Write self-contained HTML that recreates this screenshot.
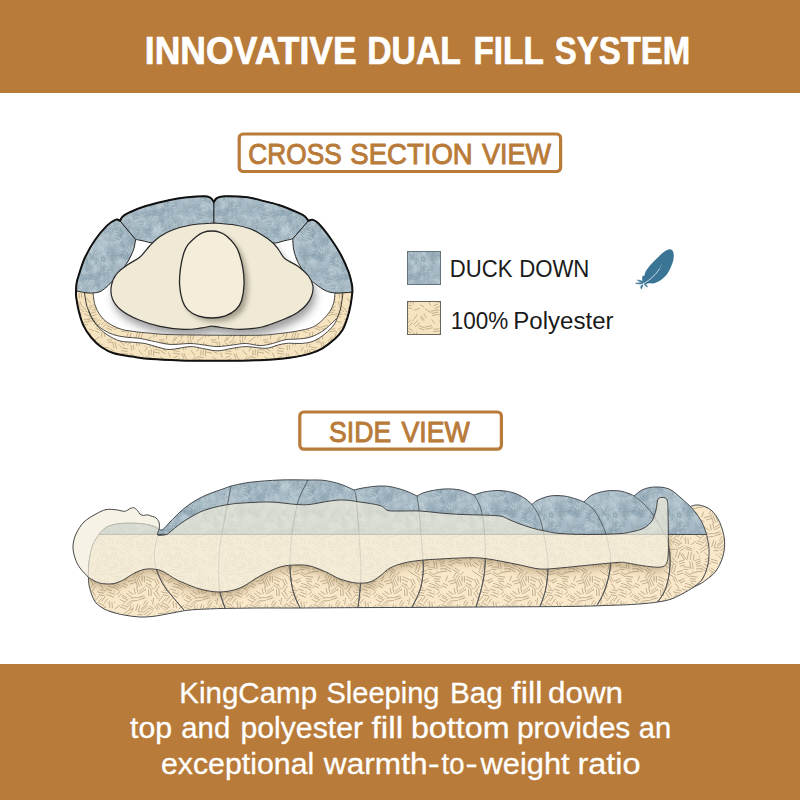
<!DOCTYPE html>
<html><head><meta charset="utf-8"><title>Innovative Dual Fill System</title>
<style>
html,body{margin:0;padding:0;background:#fff;}
body{width:800px;height:800px;overflow:hidden;font-family:"Liberation Sans",sans-serif;}
svg{display:block;}
text{font-family:"Liberation Sans",sans-serif;}
</style></head><body>
<svg width="800" height="800" viewBox="0 0 800 800">
<defs>
<pattern id="polyA" width="64" height="64" patternUnits="userSpaceOnUse"><rect width="64" height="64" fill="#fae8ca"/><path d="M18.1 6.9L23.8 10.3M17.1 9L22.3 12.2M44.8 4.7L40.3 6.9M44 2.5L38.1 5.3M37.9 22.1L33.5 27.2M35.4 19.6L30.8 25M5.3 31.8L3.6 35.3M3.4 29.8L1.5 33.8M8.3 6.4L2.4 7.9M7.1 3.9L0.4 5.6M71.1 3.9L64.4 5.6M26.1 50.2L30.7 53.4M24.1 52.7L28.2 55.5M8.6 11L10.2 17.2M6 12.5L7.3 17.9M42.8 61.1L37 62.8M42.5 58.5L37.3 60.1M-0.4 -0L-2.3 4.9M-0.4 64L-2.3 68.9M63.6 -0L61.7 4.9M63.6 64L61.7 68.9M57.3 18.1L54.3 21M55.8 15.7L52.8 18.5M21.3 49.3L23.2 54.6M18.8 50.2L20.4 54.6M16.1 50.5L17.7 55M10.3 35.8L14.1 35.9M10 38.6L14.2 38.7M43.5 22.9L40.4 27.3M41.4 20.4L37.9 25.2M34.8 1L37.1 4.7M34.8 65L37.1 68.7M33.1 2.2L35.4 6.1M23.3 36.8L18.7 39.9M21.4 34.9L16.5 38.3M28.6 15.7L31.5 20.2M25.8 16.6L29.5 22.2M54.2 42.6L53.3 48.3M51.5 40.6L50.2 47.8M48.6 40L47.3 47M35.5 54.4L34.3 59.5M33.2 52.3L31.7 58.3M44.6 16.1L50.4 18.4M42.7 18.5L49.6 21.3M11.9 29.5L10.3 34.9M9.6 28.4L7.8 34.6M0.5 40.6L3.9 44M64.5 40.6L67.9 44M45.6 34.7L51.7 36.7M45.9 36.7L52 38.7M34.7 27.1L39.9 29.5M33.2 29.3L39.1 32M57.9 59.7L51.1 61.5M30.8 40.3L29.9 44.6M11.6 4.1L13.9 9.6M9.3 4.7L11.6 10.2M7.5 5.4L9.8 11.1M6.6 51.2L2.9 52.6M5.7 48.3L1.1 50.1M5.3 45.8L1.5 47.2M20 26.1L18.1 29.6M18.1 24.2L15.7 28.5M-4.6 7.4L-0.1 9.6M59.4 7.4L63.9 9.6M57.8 9.5L62.4 11.7M36.1 13.9L41.6 14.8M34.1 16.2L39.8 17.2M35.3 18.9L40.3 19.8M4.2 26.3L-0.2 30.5M68.2 26.3L63.8 30.5M2.9 24.8L-1.3 28.8M66.9 24.8L62.7 28.8M0.3 23.1L-4.2 27.4M64.3 23.1L59.8 27.4M60.4 51L56.3 52.5M60.6 49L55.9 50.7M60.2 46.7L54.9 48.7M25.5 22.4L24.7 28.4M19 0.7L25.2 3.8M19 64.7L25.2 67.8M18.2 3.3L23.5 6M9.4 24.4L3.7 25M8.7 21.4L2.7 22.1M0.1 52.3L4.5 54.6M64.1 52.3L68.5 54.6M-1.2 54.9L3.1 57.2M62.8 54.9L67.1 57.2M-2.1 57L3 59.8M61.9 57L67 59.8M30.5 27.3L33.4 31.3M28.3 28.7L31.3 33M26.8 30L29.5 34M22.9 12.8L23.3 19.5M20.5 13.9L20.9 19.5M51.1 6.7L56.2 10M50.1 9L55.1 12.1M49.6 11L54.9 14.3M7.4 47.3L13.3 48.9M7.5 49.8L13.4 51.5M32.4 46.1L37.8 51.1M31.2 48.9L36.2 53.5M0.7 15.4L5 18.2M64.7 15.4L69 18.2M-1.5 17.6L3.5 20.9M62.5 17.6L67.5 20.9M15.8 41.5L19.9 44.9M14 43.7L17.9 46.9M17.6 13.5L11.5 17.6M16.4 11.7L11.2 15.2M55.8 29.3L51.1 32.7M44.5 53L40.1 54.2M44.6 50.3L39.4 51.8M43.7 48.1L38.9 49.5M24.4 58.7L28 61.8M45.6 7.4L50.3 8.9M44.5 10.2L49.7 11.9M42.2 12.9L47.4 14.6M11.9 0.2L9.2 4.7M11.9 64.2L9.2 68.7M9.9 -1.2L6.7 4.3M9.9 62.8L6.7 68.3M8.4 -3.8L5 2M8.4 60.2L5 66M7 56.1L11.5 59.1M5.1 57.7L10.1 61M31.4 10.1L27.6 15.8M29.1 8.4L25.8 13.3M15.7 59.8L12.7 62.9M44 55L49.1 55.2M43.9 57.4L48 57.5M56.3 39.1L58.8 42.3M52.1 50.1L53.3 56.7M49.7 49.6L51 56.7M42 41.3L46.4 47.4M40.3 41.7L44.5 47.6M45.3 60L49.7 62.7M44.2 -2.3L49.5 0.9M44.2 61.7L49.5 64.9M47.9 26.7L48.5 31.8M45.4 27.2L45.9 31.7M37.5 37.2L30.6 37.4M21.5 30.1L25.8 32.6M20.9 32.1L24.6 34.2M3.1 36.2L-3.5 40.4M67.1 36.2L60.5 40.4M2.2 33.5L-4.3 37.7M66.2 33.5L59.7 37.7M39.9 40.5L37.9 46.2M37.5 38.7L35.4 44.9M30.5 59.5L35.5 63M28.2 -2.8L33.9 1.2M28.2 61.2L33.9 65.2M27.6 43.9L22.5 47.6M26 42.2L21.2 45.8M26.1 40L20.5 44.1M50.5 0.2L57.1 1.1M50.5 64.2L57.1 65.1M50.5 2.7L55.5 3.3M50.7 5L55.7 5.6M58.2 19.2L62.7 21.6M58.2 21.1L62.7 23.4M56 23.5L60.5 25.8M44.4 36.2L40.3 38.8M43.2 33.9L38.7 36.8M41.8 30.9L36.8 34.1M28.8 2.9L31 7.5M26.5 3.5L29.1 8.9M17.4 21.6L10.9 23.9M16.2 19.6L9.8 21.9M35.8 7.9L39.1 12.8M62.4 59.4L57.1 59.6M62.1 56.7L56.4 56.9M61.9 53.9L56.7 54.1M20.5 32.2L15.1 36.5M18.4 30.7L13.8 34.3M17.8 29.2L13.1 32.9M-6.1 28.7L-0.6 31M57.9 28.7L63.4 31M56.4 30.9L62 33.3M16.4 0.3L16.4 6M16.4 64.3L16.4 70M14.2 0.2L14.2 5.1M14.2 64.2L14.2 69.1" stroke="#bfae8d" stroke-width="0.95" fill="none" stroke-linecap="round" opacity="1.0"/><path d="M23.5 24.5h0.01M50.4 15.9h0.01M22.1 47.2h0.01M13.8 3.4h0.01M61.3 57.7h0.01M20.6 18.6h0.01M29.5 14h0.01M49.8 55.9h0.01M45.2 25.8h0.01M53.1 59.1h0.01M12.4 42.4h0.01M11.7 62.1h0.01M50.3 26.4h0.01M46.9 19.2h0.01M4.9 32.8h0.01M5.7 29.3h0.01M53.9 36.8h0.01M17.5 14.1h0.01M35.6 32.6h0.01M57 11.6h0.01M29.9 28.8h0.01M24.4 12.5h0.01M24.8 34.7h0.01M13 20.9h0.01M33.7 59.3h0.01M30.9 22.5h0.01M3.1 33.1h0.01M22.3 8.2h0.01M30.4 39.2h0.01M22.8 46.6h0.01M40.2 4.9h0.01M4.1 33.6h0.01M38.5 35.5h0.01M15.2 22.4h0.01M45.5 25.6h0.01M33.8 15.2h0.01M40 30.7h0.01M1.2 47.8h0.01M50.8 62.2h0.01M59.4 44.5h0.01M29.9 17.5h0.01M44.6 27h0.01M21 8.2h0.01M38.5 45.1h0.01" stroke="#bfae8d" stroke-width="1.1" stroke-linecap="round" fill="none" opacity="1.0"/></pattern><pattern id="polyB" width="52" height="52" patternUnits="userSpaceOnUse"><rect width="52" height="52" fill="#f6e4c1"/><path d="M36.7 6.8L44.4 6.9M36.1 9L43.7 9.1M11 30L12.6 36.7M8.8 30.3L10.2 36M4.7 45.1L7.8 46.9M50.3 32.1L48.9 35.4M47.8 30.9L46.2 34.8M37.3 17.1L41.6 18.8M34.6 27.5L35.6 33.3M32 27.8L33 33.6M49.8 38L49.4 43M47.5 37.7L47 43.1M45.1 38.5L44.7 43.2M8 30.1L4.3 30.2M7.8 27.8L3.3 28M9.3 -3.1L15.1 0.8M9.3 48.9L15.1 52.8M15.7 7.8L18.8 11.6M33.6 15.9L27.8 19.3M31.4 14.3L26.1 17.4M3.2 13.7L8.9 16M2.8 16L7.7 18M38.4 21.4L36.7 27.3M36.1 20L34.2 26.6M33.5 20.2L31.9 25.8M12.7 41L14.3 45.2M3.4 48.5L-1.8 50.1M55.4 48.5L50.2 50.1M28 41.6L29.5 45.4M26.1 41.9L27.6 46.1M1.2 2.8L-2.1 7.2M53.2 2.8L49.9 7.2M34.9 38.4L38.6 42.9M23.2 46.6L19 48.4M21.6 44.1L17.9 45.7M23.7 9.2L29.5 10.3M33.7 -0.8L38.9 1.6M33.7 51.2L38.9 53.6M32.5 1.9L37.2 4M8.1 2.5L10.4 5.9M5.4 4L8.2 8M4.5 5.2L7 8.9M44.4 2.7L40 3.8M43.8 -0.2L39.5 1M43.8 51.8L39.5 53M43.7 49.4L40.1 50.4M23.2 2.1L16.5 3.5M21.9 0.1L16.2 1.3M21.9 52.1L16.2 53.3M22.1 -2.3L15.1 -0.8M22.1 49.7L15.1 51.2M16.3 15.8L9.9 17.3M15.7 13.6L9.4 15M27.7 29.6L23.7 32.5M25.3 28.1L21.1 31.1M29.3 45.9L33.7 49.7M27 -4.4L31.8 -0.3M27 47.6L31.8 51.7M25.9 -1.6L30 2M25.9 50.4L30 54M27.1 21.5L25.2 26.7M24.5 20L22.8 24.7M23.7 19L17.5 19.6M22.9 16.8L17.9 17.3M21 25.2L18.6 28.8M19.3 25L16.7 29.1M0.7 20.2L0.5 24.3M52.7 20.2L52.5 24.3M49.9 20.4L49.7 25.2M48.1 10.6L44.5 15M46.5 7.9L42.4 12.8M43.4 35.1L41 39.1M18.7 36.2L23.6 37M17.2 38.6L23.1 39.5M17.6 41.2L23.8 42.2M32.5 7.2L36.9 7.5M32.2 9.9L37 10.1M31.1 12.5L35.5 12.8M40.8 45.6L37.2 50.6M39 44.8L36 49M24.4 1.7L29 2.6M23.6 4L28.5 4.9M11 22.3L10.4 27M47.2 24.9L41 29.5M-1.2 34.9L4.6 36M50.8 34.9L56.6 36M-0.8 37.4L4.4 38.4M51.2 37.4L56.4 38.4M-1.9 40L3.7 41.1M50.1 40L55.7 41.1M3.7 10.7L-0.8 15M55.7 10.7L51.2 15M1.7 8.6L-2.7 12.9M53.7 8.6L49.3 12.9M29.3 33.4L29.8 37.3M27 33.5L27.6 38M41.7 44.8L47.2 45.6M42.2 47.6L47.7 48.4M44.7 16.6L48.6 18.5M43.3 18.9L46.9 20.6M16.7 30.3L20.2 33.3M14.9 32.7L17.7 35.2M6.6 37.1L10.1 39M5.3 39.3L9.3 41.6" stroke="#bfaa84" stroke-width="0.9" fill="none" stroke-linecap="round" opacity="1.0"/><path d="M26.5 24h0.01M26.4 22.5h0.01M22.8 50.3h0.01M40.9 34.3h0.01M8.3 1.7h0.01M19.8 35.9h0.01M49.6 44.1h0.01M48.7 8.5h0.01" stroke="#bfaa84" stroke-width="1.1" stroke-linecap="round" fill="none" opacity="1.0"/></pattern><pattern id="down" width="64" height="64" patternUnits="userSpaceOnUse"><rect width="64" height="64" fill="#a6b9c4"/><path d="M47.5 45.5Q49.5 44.6 51.1 43.1M47.6 47.2Q50.2 46.3 52.2 44.4M2.8 7.4Q2 4.8 4.3 3.6M3.8 8.5Q5.3 6 6.1 3.2M6.2 8.8Q6.1 6.2 6.7 3.7M7.3 9.5Q7.4 6.5 8.5 3.8M54 54.9Q53.5 51.7 51.3 49.2M55.9 54.6Q53.2 51.9 52.3 48.2M56.5 52.7Q56.9 50 54.4 48.9M57.5 52.1Q56.6 50.2 56.4 48.1M36.3 54Q37.5 56 39.7 56.8M34.5 55Q36.7 57.1 39.5 58.3M22.3 8.3Q18.4 8.6 15.1 6.7M21 5.7Q18.9 6.4 16.6 6.3M21.8 5.3Q18.7 5.8 16.1 4M48.7 57.9Q46.9 55.7 47 52.9M49.2 57.9Q50.7 55 48.9 52.4M50.8 57.4Q49.1 55 50.1 52.2M27.2 53.1Q29.1 54 30.2 55.9M26 54.5Q27.2 56.3 29.1 57.3M24.3 55.6Q25.7 58.4 28.7 58.7M23.3 57.2Q25.9 57.7 28 59.3M26.5 0.6Q23.9 -2 23.5 -5.6M26.5 64.6Q23.9 62 23.5 58.4M27.4 -1.3Q27.4 -3.8 25.7 -5.7M27.4 62.7Q27.4 60.2 25.7 58.3M29.4 -1.8Q26.6 -3.5 26.2 -6.8M29.4 62.2Q26.6 60.5 26.2 57.2M30.6 -2Q29.4 -5.3 28 -8.5M30.6 62Q29.4 58.7 28 55.5M17.2 45.2Q13.7 46 10.1 45.7M17.2 43.5Q13.4 43 10.2 44.9M17.3 43Q13.6 43.8 10.1 42.4M17.3 41.8Q13.9 40.3 10.1 40.8M44.1 4.6Q41.5 6.4 39.9 9.1M43.1 3Q41.9 6.4 39.1 8.8M41.4 3Q40.2 4.9 38.8 6.6M40.4 2.1Q40.4 4.7 37.9 5.3M44.1 38Q46.7 40.6 50.4 40.2M43.9 38.4Q46.6 40.3 49.3 42.1M43.5 40.8Q45.9 41.9 48.5 42.1M19.7 35.3Q18.1 33.2 15.4 33M20 33.8Q18.2 32.7 16.5 31.6M20.7 32.8Q19.4 30.5 16.8 30.4M35.2 21.2Q37.3 20.8 39.4 20.6M35.6 22.7Q37.7 22.5 39.7 22M6.4 6.9Q7 4.1 9.3 2.2M6.6 7.6Q8.4 4.7 11.5 3.3M9.5 8.2Q11.4 6.9 11.3 4.5M9.7 9.9Q11.9 7.5 13.7 4.6M14 44Q15 47.2 16.8 50.1M12.4 44.7Q14.8 47.7 16.1 51.3M11.1 47.2Q14 47.9 14.8 50.7M9 50.7Q10.3 48.7 11.3 46.4M10.3 52.1Q11.2 49.4 12.8 47M39 48.7Q41.8 49.2 44.2 50.6M38.7 50Q41.2 51.5 44.1 51.6M38.7 52.2Q41.2 52.4 43.6 52.8M43.5 37.2Q43.6 33.2 46.5 30.5M45.9 36.5Q45.4 33.9 47 31.8M47.8 37Q48.1 34.4 48 31.8M45.3 5.6Q47 7.3 46.6 9.6M43.2 5.4Q43.4 9.1 46.4 11.1M42.6 7Q43.4 9.1 44.8 10.8M31.6 13.6Q31.7 10.8 32.9 8.1M33.2 13.5Q33.5 11.3 34.5 9.2M34.5 14.3Q34.1 11.3 36.5 9.4M8.5 46.7Q5.8 44.5 2.2 44.9M8.5 46.2Q5.6 45.1 3.7 42.7M9 43.9Q6.6 43.8 4.7 42.2M48.1 53.7Q48.9 57.6 46.5 60.8M47.1 53.5Q46.7 56.9 44.9 59.8M8.3 49.3Q9.9 46.2 10.5 42.7M10.8 48.5Q11.3 46 10.3 43.7M12.2 48.8Q11.7 46.3 12.3 43.7M12.6 12.9Q8.9 14.4 5.6 16.5M10.6 12.1Q8.9 14.6 5.8 14.5M36.7 38.1Q35.7 40.7 33 40.9M35.8 36.5Q33.2 37.3 32 39.8M2.5 53Q4.4 54.9 5.9 57.1M1.3 54.5Q1.9 57.1 4.6 57.4M65.3 54.5Q65.9 57.1 68.6 57.4M-0.4 53.8Q1.7 57 3.7 60.1M63.6 53.8Q65.7 57 67.7 60.1M14.6 18.1Q12.2 18.6 9.8 18.3M15.6 17Q12.4 18.7 9.2 16.9M16 16.9Q13.1 14.6 9.5 14.2M60 48.9Q57.9 50.9 55.2 50.1M60 46.7Q57.6 49.1 54.4 49.6M33.3 4.1Q34.1 7.9 31.5 10.8M32.6 3.3Q29.4 5.9 29 10M30.7 3.8Q29.4 5.9 28 7.9M29.2 2.7Q27.1 5 27.7 8.1M53.7 45.2Q55.1 42.6 56.9 40.3M55.3 45.6Q56.7 43.4 58.3 41.4M57.4 47.4Q57.3 43.9 59.4 41.2M45.7 46.1Q49.5 44.2 53.6 45.4M47.6 47.8Q49.7 46.2 52.2 47.3M46.5 49.9Q50.3 50.1 53.6 48.4M46.3 51.2Q50.3 51.1 54.2 50.4M41.2 2.5Q40.6 6.6 42.9 10.2M38.7 3.7Q40.4 7.1 42.5 10.2M50.4 38.9Q54.4 38.4 57.2 41.3M49.8 40.5Q53 43 57 42.1M50.7 41.6Q53.4 41.5 55.2 43.6M50.3 42.3Q52.2 44.2 54.8 45.2M34 20.4Q31.5 20.1 30.1 22.3M33.1 18.6Q30.6 18.9 29.2 21.1M33.9 17.5Q30.8 19.7 26.9 19.7M33.1 15.9Q30 18.6 26 18.3M22.7 25.9Q24.7 23.4 26.4 20.7M25.7 26.5Q27.9 24.2 26.7 21.4M26 27Q28.8 25.1 28.7 21.7M11.7 41Q14.7 43.5 16.9 46.7M10.6 43Q14 43.7 15.4 46.9M10.4 44.2Q11.2 46.5 13.3 47.7M9.7 44.9Q10.7 46.9 11.8 48.8M8.1 51.5Q11.1 49.5 14.6 50.2M7.8 52.5Q11.6 51.5 15.4 52.7M50.3 44.1Q47.4 44 45.1 42.4M49.9 41.7Q47.8 41.8 45.7 41.4M51 40.9Q47.9 40.1 44.9 39.1M51.4 39.1Q48.2 37.8 44.7 37.6M37.9 43.7Q37.4 46.3 36.7 48.8M35.9 43.9Q36.8 46 35.6 47.9M51.2 26.7Q51.2 23.5 53.4 21.1M53.1 26.7Q53.3 24.7 54.4 22.9M53.7 28.1Q55.5 25.9 56.8 23.4M34.7 60.4Q35.7 56.9 35.2 53.3M35.9 58.9Q37 57.2 37.3 55.1M37.4 59.7Q39.3 57.6 39.1 54.7M16.3 34.3Q17.9 32.5 17.4 30.1M19.1 35.7Q17.2 32.5 17.6 28.7M19.5 35.6Q20.8 32.4 20.4 28.9M49.7 51.9Q51.6 54.1 52.6 56.7M47.8 53.4Q49.2 56.1 51.8 57.5M12.9 5.2Q15.8 3.2 16.8 -0.3M12.9 69.2Q15.8 67.2 16.8 63.7M14.5 5.5Q15.4 2.9 17.5 1.1M14.5 69.5Q15.4 66.9 17.5 65.1M39.3 42.5Q42.6 42.6 45.6 41.2M39.6 43Q42.4 43 45.2 43.4M39.1 44.2Q42.3 44.9 45.6 45M3.5 30.3Q4.1 27.6 6.5 26.2M5.2 31.1Q5.5 28.7 6.9 26.7M6 32.2Q7.9 30 8.5 27.1M32.7 39Q31.4 41.2 29 40.4M33 36.7Q30.8 39.4 27.3 40M32.8 58.3Q31.9 60.5 30.1 61.9M30.7 56.9Q29.8 59.4 28.6 61.7M29.9 56Q27.7 58.4 27 61.6M27.8 56.2Q25.6 57.6 26.2 60.2M7.5 38.1Q5.4 38.1 3.5 37.3M8.4 36.6Q5.7 34.8 2.9 36.4M9 35.7Q5.9 34.6 2.5 34.5M23.1 10.3Q23.5 6.8 25.1 3.6M24.5 10.4Q25.7 7.6 26.8 4.6M10 7.8Q13.1 8.3 16.3 8.9M9.5 9.5Q12.6 11.6 16.2 10.7M38 30.5Q39.4 27.2 42.4 25.1M40.7 31.6Q41.8 28.6 42.5 25.6M41.5 31.7Q44.2 30.2 44.7 27.2M8.2 33.9Q10.6 32.4 12.8 30.7M9.5 35.3Q10.3 32.1 13.4 31.6M47.7 24.7Q50.7 22.2 54.4 23.1M48.2 26.6Q50.9 24 54.6 23.6M49 27.1Q51.6 25.2 54.7 26M8.5 2.7Q6 1.4 5.9 -1.4M8.5 66.7Q6 65.4 5.9 62.6M9.4 3.2Q8 0.2 8 -3.1M9.4 67.2Q8 64.2 8 60.9M50.5 28.9Q54.1 27.6 57.8 28.2M52.1 31.5Q54.8 30.6 57.4 29.5M51.8 33.4Q54.7 30.9 58.4 30.1M52.5 34.7Q55.3 32.6 58.7 31.8M31.5 8.3Q29.3 5.3 25.6 4.7M31.2 6Q28.9 5.4 27 4.1M23.4 -9.5Q21.9 -5.7 22.7 -1.7M23.4 54.5Q21.9 58.3 22.7 62.3M22 54.6Q20.9 58.3 22.3 61.8M21.1 55.7Q21.5 58.1 20.2 60.2M20.1 54.1Q19.4 57.7 18.8 61.3M35.7 -0.5Q39.7 -0.3 42.3 -3.3M35.7 63.5Q39.7 63.7 42.3 60.7M36.7 -0.4Q39.3 -0.5 41.8 -1.1M36.7 63.6Q39.3 63.5 41.8 62.9M37 1.2Q39.5 0.3 42.1 0.3M37 65.2Q39.5 64.3 42.1 64.3M36.3 2.9Q40 2.8 43.4 1.2M36.3 66.9Q40 66.8 43.4 65.2M-6.9 55.1Q-4.1 58.3 0 59M57.1 55.1Q59.9 58.3 64 59M57.2 56.7Q58.8 59.5 62 60.1M55.8 -7Q59.3 -5 61.7 -1.7M55.8 57Q59.3 59 61.7 62.3M8.7 7.1Q9.3 3.2 8.5 -0.7M8.7 71.1Q9.3 67.2 8.5 63.3M10.7 6.3Q11.4 3 9.5 0.2M10.7 70.3Q11.4 67 9.5 64.2M38.8 11.5Q41.4 12.1 43.9 11.4M37.9 12.8Q41.6 11.5 45.3 12.5M38.2 15.3Q42.5 15.8 45.8 13.1M21.4 25.3Q19.9 22.3 20.2 19M23.2 24.7Q23.8 21 21 18.5M24 23Q23.8 20.9 22.6 19.2M26.4 23.2Q26.2 19.6 23.2 17.6M21.1 38.8Q23.5 37.7 24.9 35.6M20.6 40.3Q24.2 38.7 27.3 36.1M22.1 41.4Q24.7 38.7 28.3 37.6M58.9 26.2Q55.6 25.9 52.4 25.2M59.5 24.9Q55.7 24.4 52.1 23M58.1 22.9Q55.8 23.3 53.7 22.1M58.4 21.3Q56.1 20.3 53.7 21.2M31 42.7Q27.5 42 24 42.5M30.5 41.6Q27.6 41.9 25.1 40.3M30.8 39.6Q28 38.2 25.2 39.8M47.1 15.3Q43.8 16.8 40.6 15M46.7 13.5Q43.7 14.4 40.7 13.8M46.7 12.4Q43.5 14 40.4 12.4M-0.5 27Q-2 29.3 -0.7 31.7M63.5 27Q62 29.3 63.3 31.7M61.1 27Q60.9 29.7 61.8 32.3M59.6 26.1Q58.7 30.1 60.6 33.6M58 26.8Q58.6 30.1 58.4 33.6M36.1 31.5Q34.2 32.8 33.1 34.9M35.4 29Q33 32.1 31.5 35.8M33.1 29.2Q32.4 31.6 31 33.6M32.5 28.1Q32.1 31.4 29.4 33.3M12.8 37.6Q13.6 40.7 11.8 43.3M10.8 37Q9.9 40.1 10.7 43.3M41.4 52.1Q40.2 49.8 38.6 47.9M43.2 51.5Q39.8 49.8 39.1 46.1M27 44.5Q30.3 42.5 31.8 39.1M29.4 45.5Q29.6 42 32.2 39.6M29.9 45.7Q32.7 43.8 33.8 40.6M20.6 53.2Q18.5 50.6 18.5 47.3M22.2 53Q21.4 49.6 19.4 46.7M23.3 51.8Q23.4 48.9 21.3 47M42.3 -4.1Q41.7 -2.1 39.9 -0.8M42.3 59.9Q41.7 61.9 39.9 63.2M41.5 -5.8Q40.5 -2.9 38.2 -1M41.5 58.2Q40.5 61.1 38.2 63M-2.7 26.4Q0.9 27.1 3.6 24.6M61.3 26.4Q64.9 27.1 67.6 24.6M-2.9 26.7Q0.7 25.9 4.3 27.2M61.1 26.7Q64.7 25.9 68.3 27.2M-1.5 28.3Q0.9 29.6 3.2 28.1M62.5 28.3Q64.9 29.6 67.2 28.1M48.7 37.5Q50.8 39.9 53.7 41.2M48.4 37.7Q49.8 40.5 52.1 42.7M47 39.3Q49.5 40.8 50.9 43.3M30.7 56.2Q34.1 54.1 35.2 50.3M31.5 56.1Q34.3 54.9 35.9 52.2M31.2 57.1Q35.4 56.8 37.9 53.3M33.3 58.6Q34.7 55.6 37.9 54.4M53.4 -0.1Q56.2 2.4 56.6 6.3M53.4 63.9Q56.2 66.4 56.6 70.3M52.1 1.7Q55 3 55.2 6.2M52.1 65.7Q55 67 55.2 70.2M50.4 2.3Q52.4 4.7 54.7 6.9M50.4 2.5Q51.9 5.1 52.6 8M4.2 27.1Q2.7 25 0.2 24.4M68.2 27.1Q66.7 25 64.2 24.4M5.8 26.8Q3.3 24.8 0.7 22.9M69.8 26.8Q67.3 24.8 64.7 22.9M6.9 26.4Q3.5 24.8 1.6 21.5M70.9 26.4Q67.5 24.8 65.6 21.5M28.3 35.4Q26.8 37.5 28.2 39.7M26.2 34.8Q27.9 37.3 27.7 40.4M25.1 34.1Q26.9 37.4 26 41.1M54.6 8.3Q56.1 6.4 56.5 4.1M56.3 10.3Q58.1 6.8 58 2.9M58.1 11Q60.4 7.3 59.2 3.1M59.6 10.1Q58.7 7.1 61 4.9M7.7 29.5Q9.2 27.8 9.9 25.6M9.5 30.5Q9.6 27.9 10.8 25.6M9.8 31.4Q11.6 28.5 13.2 25.5M12.5 32.2Q12.8 28.9 14 25.8M6.5 56.2Q4.2 59.4 0.9 61.7M70.5 56.2Q68.2 59.4 64.9 61.7M4 55.7Q2.9 58.2 0.8 60M68 55.7Q66.9 58.2 64.8 60M5.3 56.5Q5.5 53.3 4.1 50.4M7 55.3Q5.3 53.2 5.2 50.5M8.9 54.2Q9.2 51.3 6.6 50.1M60.5 59.6Q58.3 58.1 55.7 57.9M60.9 57.7Q58.6 56.5 56 56.9M-1.3 56Q-5.2 55.8 -9 55.5M62.7 56Q58.8 55.8 55 55.5M32.5 11.8Q31.1 14.8 33 17.6M30.7 11.4Q29.7 15.3 31.7 18.8M23.9 8.4Q24.9 5.1 23.5 2M25.8 6.8Q24.4 4.9 24.8 2.6M27.9 6.7Q27.7 3.8 25.7 1.8M27.9 70.7Q27.7 67.8 25.7 65.8M42.3 29Q45.1 30.1 48.2 30.5M42.2 29.5Q43.7 32.5 47 32.4M41.6 30.9Q43.6 32.7 46.1 33.5M38.4 -2.3Q38 1.5 39.5 5.1M38.4 61.7Q38 65.5 39.5 69.1M37.5 -0.7Q38.3 1.4 37.2 3.4M37.5 63.3Q38.3 65.4 37.2 67.4M35.4 40.8Q36.5 39 37.1 37M35.4 42.7Q38.8 40.6 39.3 36.6M37.3 43.6Q39.7 41 39.9 37.5M59.3 3.3Q58.2 5.4 57.2 7.6M57.7 1.2Q55.4 4.5 55.9 8.4M57.7 65.2Q55.4 68.5 55.9 72.4M56.1 2.3Q56.5 4.5 55.1 6.2M55.1 -0.2Q55.5 4 53 7.4M55.1 63.8Q55.5 68 53 71.4M34 32.2Q34.3 35.8 31.6 38.1M32.4 31.1Q33.2 35.3 30.9 38.9M31 31.6Q31.8 35.2 29.3 37.9M29.5 31.8Q27.6 34.3 28.6 37.4M6.4 25.4Q7.9 27.2 8.7 29.4M4.2 25Q5.5 28.7 8.2 31.5M42.8 11Q40.5 12.4 37.8 11.9M43.7 9.9Q40.2 9 36.7 9.7M20.6 46.6Q21.5 49.1 22.2 51.6M18.9 47.8Q19.8 49.8 21.2 51.5M23.7 3.5Q22.8 7.2 19.7 9.4M22.5 2.6Q21.3 5.8 18.7 8M10.3 30.1Q7.2 28.1 3.7 27.7M9.6 28.1Q7.2 28.7 5.5 26.8M25 20.9Q22.1 20 19.2 19.3M25.7 19.8Q21.8 20.1 18.9 17.5M25.5 17.1Q22.5 18 19.8 16.6M39.7 20.1Q42.8 20 44.2 17.2M41.4 21.4Q44 20.8 44.2 18.1M40.6 23.1Q44.2 21.9 46.9 19.2M21.2 27.4Q17.6 27.1 13.9 27.8M20.9 26.8Q17.3 27.2 14.6 25M21.3 24.3Q17.8 25.2 14.4 24M20.9 23.4Q18 23 15 22.6M22.8 37.8Q25.3 36.5 25.3 33.7M23.1 38.4Q26.2 37.7 26.9 34.5M23.7 39.3Q26.8 38.2 28.5 35.3M25.9 40.6Q28.8 39.4 29.4 36.4M12.1 46.9Q10.6 50.1 11.6 53.4M9.7 46.6Q10.8 50.1 11.2 53.7M8.9 48.1Q9.1 50.2 9.1 52.2M8.2 31.8Q6.9 28.7 4.7 26.1M10.2 31.3Q8.6 27.9 5.9 25.2M-1 27.1Q-0 30.2 0.5 33.5M63 27.1Q64 30.2 64.5 33.5M-2.2 28.6Q0.2 29.9 -0.6 32.5M61.8 28.6Q64.2 29.9 63.4 32.5M-4 27.1Q-2.4 30.7 -1.2 34.4M60 27.1Q61.6 30.7 62.8 34.4M11.5 58.9Q9.2 60.6 6.5 59.2M12.3 57.8Q9.1 57.4 5.9 57.4M11.5 56.3Q9 56.9 6.9 55.5M30.5 38.2Q31.6 36.1 30.2 34.2M32 40Q31.6 36.1 31.5 32.3M33.4 38.4Q32.1 36.1 33.3 33.7M35.4 4.4Q37.4 6.6 40.4 6.3M34.2 6Q38 5.7 41.1 7.8M34.5 7.4Q38 7.1 40.3 9.8M19.5 17.9Q19 14.3 16.1 12.1M22 16.3Q18.2 15.1 16.2 11.7M21.5 14.6Q21.1 12.5 19.3 11.2M32.2 44.8Q36.1 44 39.4 41.6M34.5 46.1Q37 45.4 38.6 43.3M34 47.8Q37.7 47.1 40.4 44.4M58.3 45.4Q55.4 44 52.7 42.1M59.6 44.2Q56.2 42 52.2 41.2M59.7 42.6Q57.1 39.7 53.2 40.1M59.8 41.9Q57.8 38.9 54.3 38.1M27.5 34.1Q29.6 37.6 33.2 39.4M27 35.4Q29 37.8 31.3 39.7M26.8 36.4Q26.2 39.2 28.7 40.6M-8.1 43.3Q-4.4 43.5 -1.5 41.1M55.9 43.3Q59.6 43.5 62.5 41.1M-6.7 44.5Q-4.2 43.3 -1.5 43M57.3 44.5Q59.8 43.3 62.5 43M-6.7 46.5Q-3.6 44.9 -0.4 43.6M57.3 46.5Q60.4 44.9 63.6 43.6M1.4 40.2Q3 36.9 5.7 34.2M65.4 40.2Q67 36.9 69.7 34.2M3.1 41.6Q4.7 38.1 6.3 34.5M47.7 38.6Q44.7 39.5 42.6 37.1M48 37.3Q45.5 36.2 42.8 35.4M48.2 35.3Q45.5 35.8 43.2 34.2M48.7 34.1Q45.4 34.6 43.3 31.9M11.1 11.2Q14.1 10.6 16.4 12.5M9.7 13.2Q13.5 12.8 17.3 13M10.3 13.5Q13.8 13.2 16 15.8M6.7 16.6Q5 18.2 5 20.5M7 15.2Q4.6 17.6 2.3 20.1M4.8 15Q4.7 17.8 2 18.4M25.5 23.3Q27.9 25.2 31 25.6M25.5 25.1Q28 25.1 30.1 26.3M25 26.7Q27.5 25.3 29.7 27.2M24.5 27.7Q27.4 27.6 28.9 30.1M31.4 46.8Q29.7 50.4 31 54.1M30.1 46.6Q30.2 50.7 29 54.5M27.4 47.4Q27.5 50.8 28.4 53.9M41.1 24.1Q37.4 22.7 33.7 24.2M39.5 22.7Q37.1 22.1 34.6 22.7M-3.8 18.3Q-1.3 17.5 0.6 15.7M60.2 18.3Q62.7 17.5 64.6 15.7M-4.3 20.4Q-1.6 17.6 2.2 16.5M59.7 20.4Q62.4 17.6 66.2 16.5M7.9 52.5Q5.9 51.8 3.8 52M8.3 51.4Q6 49.8 3.2 50.5M8.3 49Q5.7 49.5 3.1 50M7.8 47.6Q5.9 49 3.5 48.5M4.5 24.4Q8.4 24.1 12.3 24.4M6 26.5Q8.4 25.9 10.9 25.6M5.3 27.2Q8.7 26.7 11.7 28.2M5.6 29.5Q8.7 30.7 11.6 29.1M12 -2.2Q9.2 0.3 7.9 3.9M12 61.8Q9.2 64.3 7.9 67.9M10.1 -3.3Q10.2 1 7.1 3.9M10.1 60.7Q10.2 65 7.1 67.9M34.2 45.3Q35.9 47.7 37.7 50.2M32.9 46Q33.8 48.8 35.9 50.8M32 47.1Q32.9 49.1 34.4 50.8M30.6 47.8Q32.6 49 33.2 51.3M30.8 11.4Q30.3 7.4 31.1 3.5M31.9 9.6Q32.7 7.7 33.1 5.6M33.2 17.3Q30.8 14.9 27.7 13.6M33.1 15.7Q30.8 15.1 29.5 13.1M37.7 49.1Q39.1 52.1 41.6 54.2M35.4 50.5Q39 52.1 42.1 54.5M34.3 51.6Q37.8 53.4 40.8 55.9M33.8 53Q35.9 55.7 39.2 56.6M37.2 4.8Q34.9 2 31.6 0.5M37.2 68.8Q34.9 66 31.6 64.5M36.8 3.5Q34.7 2.4 34 0.2M36.8 67.5Q34.7 66.4 34 64.2M38 3.2Q36.3 1 35 -1.4M38 67.2Q36.3 65 35 62.6M11.3 54.6Q14.2 56.3 17.6 56.3M11.3 56.3Q14.1 56.4 16.7 57.4M10.5 58.4Q13.5 59 16.6 58.6M37.9 -1.3Q37.9 -4.9 36.4 -8.2M37.9 62.7Q37.9 59.1 36.4 55.8M39.9 -1.7Q40.3 -5.8 37.4 -8.7M39.9 62.3Q40.3 58.2 37.4 55.3M40.3 61.7Q38.8 58.4 39.8 55" stroke="#bdccd5" stroke-width="0.8" fill="none" stroke-linecap="round" opacity="0.8"/><path d="M12.5 36.7Q10.8 39.1 11.3 42M10.6 36.9Q9.8 39.1 9.9 41.4M57.9 38Q55.5 39.6 52.8 40.8M57.7 37.4Q54.8 38 51.9 38.6M57.8 36Q53.9 35 50.6 37.5M37.3 11.4Q40.5 9.6 43.7 11.3M36.8 11.4Q39.8 13.9 43.7 14.1M48.2 4.3Q47.2 2.1 46.5 -0.1M48.2 68.3Q47.2 66.1 46.5 63.9M49.6 4Q50.5 1 48.5 -1.4M49.6 68Q50.5 65 48.5 62.6M52.3 4.1Q49.9 1 48.3 -2.6M52.3 68.1Q49.9 65 48.3 61.4M53.4 3.3Q50.8 0.5 50.5 -3.3M53.4 67.3Q50.8 64.5 50.5 60.7M3.3 -2.2Q3.3 0.8 0.5 1.8M3.3 61.8Q3.3 64.8 0.5 65.8M67.3 -2.2Q67.3 0.8 64.5 1.8M67.3 61.8Q67.3 64.8 64.5 65.8M2.6 -3Q-0.1 -1.9 -1 0.8M2.6 61Q-0.1 62.1 -1 64.8M66.6 -3Q63.9 -1.9 63 0.8M66.6 61Q63.9 62.1 63 64.8M12.9 20.6Q15.3 20.1 17.3 21.6M12.4 21.1Q14.3 23.2 17.2 23.6M10.7 23.5Q14.3 24.8 18.1 24.6M16.8 37.8Q17.7 33.9 20.8 31.4M18.7 39.3Q19.7 35.4 22.2 32.2M18.8 38.9Q21.3 36.3 24.3 34.1M21.1 39.2Q22.4 36.9 24.9 35.9M24.8 22.9Q27.3 20 31 19.4M25.1 23.2Q28.3 21.8 31.8 22.1M25.3 25.6Q28.3 22.7 32.6 22.6M26.6 26.8Q29.5 25.8 32.4 24.6M23.6 7.5Q20.3 7.8 17.5 6.2M24.4 6.3Q20.8 4.6 16.8 4.5M3.1 54.5Q0.6 53.6 -1.7 52.4M67.1 54.5Q64.6 53.6 62.3 52.4M4.6 53.9Q2.4 50.8 -1.3 50.3M68.6 53.9Q66.4 50.8 62.7 50.3M4.8 53.3Q2.7 50.7 0.2 48.5M68.8 53.3Q66.7 50.7 64.2 48.5M32.7 -6.3Q29.9 -4.7 30.1 -1.5M32.7 57.7Q29.9 59.3 30.1 62.5M30.6 -8Q29.1 -4.5 29.3 -0.7M30.6 56Q29.1 59.5 29.3 63.3M53.7 54.3Q51.6 56.1 49.2 57.6M52.5 52.8Q49.5 53.7 48.6 56.6M52.9 51.1Q50 54 46.3 55.7M42.3 40.7Q40.5 42 39.5 44M42.8 39.4Q40.3 41.7 37.3 43.6M41.7 38.1Q38.4 39.8 36.6 42.9M39.4 37.9Q39 40.5 36.4 40.6M58.9 49.7Q59.8 52.4 59.3 55.2M57.3 49.4Q58.9 52.3 58.4 55.6M56.5 49.9Q57.7 52.5 56.5 55.1M37.6 4.8Q37.2 2.8 37.7 0.8M37.6 68.8Q37.2 66.8 37.7 64.8M38.9 5.2Q41 3.5 39.7 1.1M38.9 69.2Q41 67.5 39.7 65.1M40.1 6.3Q40.4 3.4 40.9 0.4M40.1 70.3Q40.4 67.4 40.9 64.4M16.5 37.8Q19.7 36.9 22.7 38.5M17 38.9Q18.9 39.9 20.9 40.7M14.6 40.9Q18.3 41.9 22 41.8M35.9 25.5Q33.3 22.9 29.7 22.6M36.5 23.9Q33.9 21 30 21M36.1 21.7Q33.4 22.2 31.2 20.4M36.1 20.2Q34.4 18.6 32.1 18.8M48.1 60.5Q48 57.5 45.8 55.7M48.9 59.1Q49.5 56.4 47 55.4M51 59.1Q48.8 56.5 47.2 53.5M52.3 58.3Q49.8 55.5 48.6 52M4.9 52.8Q3.6 49.2 4 45.4M6.9 51.6Q7.4 48.2 4.9 45.8M8.6 51.5Q8.9 47.7 6.3 45M6.5 12.4Q8.3 15.2 9.2 18.3M5.9 12.1Q6 15.8 7.1 19.3M11.4 47.5Q13.5 45.3 15.2 42.9M12.3 48.5Q14.3 46.5 16.3 44.5M12.2 49.6Q15.2 47.6 18.4 45.9M25.5 -2.6Q28.6 -0.5 28.7 3.2M25.5 61.4Q28.6 63.5 28.7 67.2M24.8 -2.5Q27.3 0.4 26.9 4.1M24.8 61.5Q27.3 64.4 26.9 68.1M25.1 2.8Q24.8 5.8 25.5 8.8M24.1 2.6Q22.4 5.5 23.8 8.5M22.4 2.3Q24.2 5.3 22.5 8.3M36.5 37.4Q39.2 36.3 41.4 34.4M36.7 38Q39.9 37.7 42.7 36.1M5.4 53.1Q2.1 52.1 0.3 49.2M69.4 53.1Q66.1 52.1 64.3 49.2M6.3 51.9Q4.1 49.6 1.2 48.2M70.3 51.9Q68.1 49.6 65.2 48.2M7.5 51.1Q4.5 49.1 2.2 46.5M8.1 0Q11.7 1.8 15.7 1.9M8.1 64Q11.7 65.8 15.7 65.9M9.7 2Q11.8 3.3 13.9 1.9M9.7 66Q11.8 67.3 13.9 65.9M8.7 2.8Q12 2.1 14.7 4.3M9 4.8Q11.8 3.8 14 5.7M50.1 37.3Q50.9 35 50.7 32.5M51.8 38.4Q51.5 35.1 51.5 31.8M52.3 38.5Q53.3 35.4 53.7 32.1M21.4 23Q20.7 25.6 18.9 27.5M19.8 21.9Q17.4 24.2 17.7 27.5M0.7 52.7Q3.6 55.4 3.2 59.3M64.7 52.7Q67.6 55.4 67.2 59.3M-0.3 54.2Q-0.5 57.2 1.5 59.4M63.7 54.2Q63.5 57.2 65.5 59.4M19.8 19Q23.7 18.2 27.4 19.5M20.9 20.1Q23.3 21.7 26.2 21.1M21 22.1Q23.4 22.6 25.9 21.9M19.5 23.8Q23.5 24.5 27.1 22.7M41.5 29.1Q44.4 30.9 45.1 34.2M41.2 29.6Q41.8 32.3 43.1 34.7M39.7 29.2Q41.1 32.6 42 36.3M31.3 8.7Q30.9 4.8 30.3 1M31.3 72.7Q30.9 68.8 30.3 65M32.6 7.6Q32.9 4.6 32.1 1.7M32.6 71.6Q32.9 68.6 32.1 65.7M6 26Q7.9 28.5 6.9 31.4M4.4 27.1Q4.3 29.5 6 31.1M4.1 35.4Q7.5 35.9 10.4 34M4 37.2Q7.6 36.1 11.3 35.1M4.7 37.6Q8 35.8 11.3 37.5M6 39.7Q7.9 37.4 10.7 38.2M29.5 -2.1Q28.3 0.9 29.6 3.9M29.5 61.9Q28.3 64.9 29.6 67.9M27.5 -0.8Q27.1 1.5 28.8 3.1M27.5 63.2Q27.1 65.5 28.8 67.1M26.5 -2.2Q28.1 1.3 26.8 5M26.5 61.8Q28.1 65.3 26.8 69M58.3 60.4Q58.3 56.7 59.3 53.1M59 60.9Q60.9 57.4 61.5 53.4M-3.5 60.9Q-3.4 57.2 -0.9 54.3M60.5 60.9Q60.6 57.2 63.1 54.3M60.8 19.1Q59.8 23.2 56.1 25.3M58.8 19.8Q58 22 55.9 23M58 18.9Q57.4 21.9 54.4 22.2M17.8 33.6Q18.6 30.3 20.5 27.4M19.5 33.5Q21.6 31.9 21.4 29.2M19.9 34.6Q23.2 33.4 23.9 30.1M0.1 30.1Q-0.5 32.2 0.1 34.3M64.1 30.1Q63.5 32.2 64.1 34.3M-1.4 29.9Q-3.2 32 -1.7 34.3M62.6 29.9Q60.8 32 62.3 34.3M-1.8 28.4Q-4.7 31.5 -4.1 35.7M62.2 28.4Q59.3 31.5 59.9 35.7M59.1 29Q60.5 31.8 59.8 34.9M56.3 12.9Q58.3 14.6 57.4 17.1M55.4 11.8Q56.8 14.9 55.6 18.2M30.1 46.8Q28.8 44.4 30.8 42.6M32 47.4Q33.3 44.7 32.1 41.9M44.6 1.5Q47.7 -0.5 50 -3.4M44.6 65.5Q47.7 63.5 50 60.6M46.7 2.8Q48 -0.4 50.2 -3.1M46.7 66.8Q48 63.6 50.2 60.9M37.7 -1.5Q39.3 2.3 43 4.5M37.7 62.5Q39.3 66.3 43 68.5M37.4 -1Q37.3 3.1 40.4 5.9M37.4 63Q37.3 67.1 40.4 69.9M36.3 1Q38.4 2.9 38.6 5.7M36.3 65Q38.4 66.9 38.6 69.7M26.9 23.4Q23.9 22.9 21.3 21.2M27.5 21.7Q25.1 19.2 21.7 19.6M28.2 19.4Q25.1 18.9 22 18.5M-0.5 0.1Q-2.7 0.6 -4.7 1.7M-0.5 64.1Q-2.7 64.6 -4.7 65.7M63.5 0.1Q61.3 0.6 59.3 1.7M63.5 64.1Q61.3 64.6 59.3 65.7M-0.3 -0.9Q-3.2 -0.4 -5.9 0.5M-0.3 63.1Q-3.2 63.6 -5.9 64.5M63.7 -0.9Q60.8 -0.4 58.1 0.5M63.7 63.1Q60.8 63.6 58.1 64.5M-0.1 -2.6Q-3.7 -1.2 -7.5 -0.5M-0.1 61.4Q-3.7 62.8 -7.5 63.5M63.9 -2.6Q60.3 -1.2 56.5 -0.5M63.9 61.4Q60.3 62.8 56.5 63.5M-1.6 -5.2Q-5.3 -4.1 -7.3 -0.8M-1.6 58.8Q-5.3 59.9 -7.3 63.2M62.4 -5.2Q58.7 -4.1 56.7 -0.8M62.4 58.8Q58.7 59.9 56.7 63.2M-7.4 59.2Q-3.5 58.6 -0.6 61.4M56.6 59.2Q60.5 58.6 63.4 61.4M57.5 -3Q58.5 -0.7 61 -0.9M57.5 61Q58.5 63.3 61 63.1M55.5 -1.3Q59 -2.2 61.8 0M55.5 62.7Q59 61.8 61.8 64M55.7 -0.5Q57.4 1.8 60.3 2.4M55.7 63.5Q57.4 65.8 60.3 66.4M59 50.5Q57.3 46.9 56.4 43M60.7 48.8Q57.8 46.8 57.4 43.3M46.9 -8.5Q45.4 -5.4 45 -2M46.9 55.5Q45.4 58.6 45 62M45.1 -9.6Q43.9 -5.8 44 -1.7M45.1 54.4Q43.9 58.2 44 62.3M27.8 23.6Q25.1 20.7 24.5 16.7M28.6 21.7Q27.4 19.6 26.4 17.4M29.7 21.6Q29.7 18.5 27.5 16.4M11.4 6.3Q13.1 4.3 14.3 2M11.4 70.3Q13.1 68.3 14.3 66M12 6.4Q13.3 4.4 15.7 4M12 8.4Q15.4 7.1 18 4.4M32.2 21.1Q35.8 22.2 37.8 25.4M32.1 23Q34.6 23.7 36 25.9M31.9 23.9Q33.4 25.4 34.6 27.1M2.4 2.3Q-1 3 -4.4 3.6M66.4 2.3Q63 3 59.6 3.6M1.6 2.1Q-1.1 1.5 -3.9 1.3M1.6 66.1Q-1.1 65.5 -3.9 65.3M65.6 2.1Q62.9 1.5 60.1 1.3M65.6 66.1Q62.9 65.5 60.1 65.3M49.9 37.8Q49.7 40.5 47.9 42.5M49.9 36.6Q48.3 39.8 45.6 42.2M47.2 36.4Q45.2 38.1 45.7 40.7M46.8 35.1Q43.8 37 43.9 40.6M10.2 26.7Q7.5 27.5 4.7 27.2M10.8 26Q7.5 26.3 4.5 24.8M10.3 23.7Q7.7 23.1 5.2 24.3M11.2 23Q8.1 21.8 4.8 21.2M28.6 33Q29.9 29.1 33.4 27M30.8 33.3Q33.1 31.3 34 28.4M32.3 34.8Q33.3 31.5 35.2 28.5M33.3 35.8Q34.8 32.3 36.4 28.9M33.5 39.5Q37.2 37.2 38.2 33M35.4 39.7Q38 38.2 38.5 35.2M52.2 -0Q55.2 0.1 57.9 -1.1M52.2 64Q55.2 64.1 57.9 62.9M53 1.2Q55.8 1.7 58.1 -0.1M53 65.2Q55.8 65.7 58.1 63.9M54.5 3.1Q56.7 2.8 58 1M54.5 67.1Q56.7 66.8 58 65M14.9 22.7Q15.5 19.9 17.8 18.2M16.2 25.1Q17 21.2 19.3 17.9M16.8 24.4Q18.9 22.3 21 20.3M21.8 18.2Q20.2 20.7 20 23.6M19.5 18.7Q18.3 20.9 19.9 22.9M17.6 17.7Q17.9 20.7 18.4 23.7M14.4 8.1Q10.5 8.9 6.5 9.1M13.9 6.2Q10.1 5.8 6.6 7.4M14 5.4Q10.1 4.8 6.3 4.9M16.7 41Q15.8 38.7 14.4 36.8M19.1 40.6Q16.1 38.8 14.6 35.7M23.5 15.2Q22.4 11.4 22.6 7.5M25.3 12.8Q24.1 11 23.8 8.8M27.2 13.6Q25.4 10.5 24.2 7M4 -0.9Q1.9 1.7 3.2 4.7M4 63.1Q1.9 65.7 3.2 68.7M3.1 -2Q2 1.6 0.5 5.1M3.1 62Q2 65.6 0.5 69.1M67.1 -2Q66 1.6 64.5 5.1M67.1 62Q66 65.6 64.5 69.1M0.7 -0.9Q2.1 1.5 0 3.4M0.7 63.1Q2.1 65.5 0 67.4M64.7 -0.9Q66.1 1.5 64 3.4M64.7 63.1Q66.1 65.5 64 67.4M-0.2 -1.7Q-0.9 1 -1.2 3.8M-0.2 62.3Q-0.9 65 -1.2 67.8M63.8 -1.7Q63.1 1 62.8 3.8M63.8 62.3Q63.1 65 62.8 67.8M10.1 7.1Q10.9 3 14.3 0.7M10.1 71.1Q10.9 67 14.3 64.7M13 7.4Q13.7 4.4 14.3 1.4M13 71.4Q13.7 68.4 14.3 65.4M40.4 20.4Q39.4 17.6 39.8 14.5M41.8 19.9Q42.5 17.2 41.8 14.6M43.9 19.1Q42.3 17.2 43.1 14.8M45.3 20.5Q44.2 16.8 44.2 13M46.1 45.7Q50.1 44.9 53.3 47.5M46 46.9Q48.9 48.4 52.2 48.5M46.8 47.7Q47.6 50.3 50.3 50M17.5 10.7Q15.3 9.4 13 10.6M19.1 10.4Q15.6 9.1 11.9 8.4M18.5 8.4Q15.6 9.1 13.2 7.5M1.6 34Q0.7 37.4 0.2 41M65.6 34Q64.7 37.4 64.2 41M0.1 34.2Q0.9 37.7 -0.9 40.7M64.1 34.2Q64.9 37.7 63.1 40.7M-2.1 35.4Q-2.8 37.5 -1.6 39.5M61.9 35.4Q61.2 37.5 62.4 39.5M23.3 22.2Q19.8 23.4 18.7 27M21.3 21.4Q19.5 23.7 18 26.2M2 48.5Q5.2 49.5 8.6 49.3M1.7 48.2Q4.8 50.3 8 52.1M65.7 48.2Q68.8 50.3 72 52.1M0.5 50.5Q4.7 50.1 8 52.9M64.5 50.5Q68.7 50.1 72 52.9M58.7 37.9Q58.3 40.8 60.7 42.3M56.8 37.1Q57.4 41 60 43.9M56.6 37.6Q57.3 40.9 57.7 44.2M54.7 38.2Q56 41.2 57.2 44.4M44.1 13.3Q46.5 14.2 48.7 13M43.9 14.3Q46.7 13.3 49.1 15M7.1 48.1Q10.7 46.9 14.1 45.2M8.5 49.1Q10.8 47.8 13.3 47.4M8.9 50.1Q11.3 49.9 13.6 49.6M5.3 -1.1Q4.2 -4.9 6 -8.4M5.3 62.9Q4.2 59.1 6 55.6M7.1 -0.9Q8.5 -5 6.3 -8.7M7.1 63.1Q8.5 59 6.3 55.3M8.5 61.7Q7.4 59.2 8.1 56.7M9.9 61.9Q10 59.1 9.7 56.3M24.8 -4.3Q21.8 -3.1 18.9 -1.7M24.8 59.7Q21.8 60.9 18.9 62.3M24.1 57Q20.7 59 17.8 61.8M23.6 56.2Q19.3 56.4 16.7 59.8M56.3 1.3Q54 -1.5 50.4 -1M56.3 65.3Q54 62.5 50.4 63M56.2 -0.2Q54.1 -1.6 51.7 -2.5M56.2 63.8Q54.1 62.4 51.7 61.5M57.5 -1.5Q54.4 -2.3 51.5 -3.9M57.5 62.5Q54.4 61.7 51.5 60.1M34.3 16.3Q33.7 19.3 36.1 21.1M32.3 16.7Q32.4 19.9 35.1 21.7M15.4 42.9Q15.2 45.4 12.8 46.3M14.7 41.1Q13 43.7 11.1 46M14.1 39.9Q11.4 42.3 9.7 45.4M26.2 18.7Q25.8 22.2 24 25.1M23.9 19.4Q21.8 21.2 22.7 23.9M36.6 15.9Q35.2 19.6 37 23.1M36 17.1Q36.6 19.6 35.2 21.7M33.7 15.5Q35.5 19.2 34 22.9M33.4 16.3Q34.2 19.6 31.6 21.9M40.1 8.8Q38.9 11.5 40.5 14M38.3 8Q40.4 11.1 39 14.6M36.5 8.9Q35.2 11.5 37.2 13.5M17.8 40.3Q20.2 41.2 22.5 42.3M17.4 42.6Q19.9 41.1 22.3 42.6M15.6 44Q19.5 44.5 23.4 44.5M49.2 8Q48.7 5.2 46.3 3.6M50.2 8.7Q50.4 4.9 48 1.9M50.2 72.7Q50.4 68.9 48 65.9M51.9 8.1Q49.8 5.1 48.9 1.5M51.9 72.1Q49.8 69.1 48.9 65.5M3.2 45.8Q5.5 45 7.3 43.2M4.4 47.4Q5.4 44.4 8.5 44M6.5 48.9Q8.2 47.2 8.9 44.9M35.9 13.4Q38 15 40.4 14.1M35.9 15.6Q38.1 15.1 40.5 15.2M34.6 16.3Q37.9 18.1 41.8 17.7M34.5 18.2Q38.2 18.5 41.9 19.3M59.9 57.7Q56.5 56.2 54 53.5M61 55.8Q58.1 53.6 54.6 52.6M61.1 55.2Q57.6 53.8 56.2 50.3M61.6 53.7Q58.7 52.2 57.2 49.4M6.9 45.5Q9.2 42.9 12.1 41.1M7.2 46.2Q11 45.8 13.1 42.5M7.5 46.9Q11.2 46.6 14.3 44.5M56.3 23.2Q52.4 23.2 49.2 20.9M55.8 20.6Q53.2 18.7 50.4 20.3M55.8 19.6Q53.2 20.1 50.9 18.7M2.6 23.6Q5.8 22.1 9.3 21.1M4.4 24.7Q6.9 24.1 9.1 22.9M4.4 26.3Q7.9 26.2 10.8 24.3M6.1 27.3Q8.7 27.6 10.5 25.7M3 53.7Q4.3 50.6 3.1 47.4M5.1 53.5Q3.4 50.7 4 47.5M6.5 54.2Q6.8 50.2 5 46.7M8.1 53.4Q8.4 50.1 6.8 47.3M5.3 1.4Q2.9 2.8 2 5.4M5.3 65.4Q2.9 66.8 2 69.4M69.3 1.4Q66.9 2.8 66 5.4M69.3 65.4Q66.9 66.8 66 69.4M4.6 -0.7Q2.4 2.4 0.1 5.4M4.6 63.3Q2.4 66.4 0.1 69.4M68.6 -0.7Q66.4 2.4 64.1 5.4M68.6 63.3Q66.4 66.4 64.1 69.4M53.4 44.5Q56.5 41.7 57.1 37.6M55.2 43.9Q57.6 42.1 57.3 39.2M55.9 45.2Q57.2 41.9 59.4 39.2M56.8 45.3Q57.7 42 60.5 40.1M47.5 62Q47.8 59.3 46.4 57M49.4 61.7Q49.2 59 47.5 56.9M49.6 61.4Q51.5 59.2 49.9 56.8M35.5 48.2Q32.8 49.1 30.9 51.3M34 46.3Q31.1 47.8 30 51M33.2 45.4Q31.8 48.4 29 50.2M31.4 45.4Q30.3 47.5 28 47.7M13.4 -1.5Q17 -1 20.5 0.2M13.4 62.5Q17 63 20.5 64.2M13.2 0.1Q16.5 2.2 20.4 1.1M13.2 64.1Q16.5 66.2 20.4 65.1M38.7 27.5Q40.2 24.1 39.3 20.5M40.2 27Q41.5 24.1 40.2 21.2M41 26.3Q40.6 24 42.2 22.3M43.2 27.6Q43.3 24.5 43.8 21.4M59.5 46.3Q56.5 43.8 52.5 43.9M58.4 43.7Q56.1 44 53.9 43.3M59.3 43Q55.9 43.3 53.4 41M60.2 41Q56.4 42.4 52.7 40.7M1.7 33Q3.5 35.2 6.2 35.9M65.7 33Q67.5 35.2 70.2 35.9M0.9 34.5Q2.9 36.3 5.4 37.3M64.9 34.5Q66.9 36.3 69.4 37.3M0.1 36.3Q3 35.9 4.5 38.6M64.1 36.3Q67 35.9 68.5 38.6M48.7 9.9Q47.6 12.2 48.7 14.4M47.5 10Q49 12.2 46.9 14M46.9 8.6Q46.3 11.9 44.7 14.9M32.1 8.3Q31.8 6.1 31.4 3.9M33.3 9.1Q31.8 5.9 32.7 2.4M36 8.4Q34.7 5.2 33.4 2.1M13.5 -0.7Q14.7 -3.3 17.4 -4.1M13.5 63.3Q14.7 60.7 17.4 59.9M15.7 0.8Q16.2 -1.7 17.9 -3.7M15.7 64.8Q16.2 62.3 17.9 60.3M15.4 1.6Q18.6 0.1 20.1 -3M15.4 65.6Q18.6 64.1 20.1 61M24.2 16.3Q21.8 15.8 21.1 13.4M25.5 14.8Q24.1 12.4 21.3 12.2M27.6 13.5Q23.5 13.9 20.6 11M27.5 11.3Q25.5 9.1 22.6 9.9M41.8 1.5Q40.4 3.7 40.1 6.3M41.8 65.5Q40.4 67.7 40.1 70.3M40.4 1.1Q40.8 3.8 39.1 5.8M40.4 65.1Q40.8 67.8 39.1 69.8M39.8 -0.5Q36.7 2.3 36.6 6.4M39.8 63.5Q36.7 66.3 36.6 70.4M40.8 34.2Q44.7 32.9 48.6 33.8M42.4 35.9Q45.1 35.9 47.7 35.4M42 38Q45 36 48.6 36.3M42.7 40.1Q45.9 39.5 48.6 37.6M21.2 36.5Q22.7 37.9 24.8 38.4M20.2 37.5Q22.8 37.5 24 39.8M18.5 37.5Q22.1 38.7 23.8 42.2M34 34.7Q32.3 31.1 33.1 27.2M36.3 33.6Q33.4 31.1 33.8 27.3M14.8 32.4Q11.8 33 8.9 32M14.2 30.6Q11.8 29 9.3 30.5M14.9 29.3Q11.7 28.9 8.4 29.1M52 25.8Q50.1 28.2 49.8 31.2M51.5 25.4Q48.8 27.3 47.8 30.5M49.8 24.5Q48.2 27.3 46.9 30.3M48 24.8Q46.5 26.5 45.8 28.7M42.6 16Q45.3 17.6 46 20.8M41.5 16.7Q44.3 18.5 44.5 21.7M39.2 17.5Q42.4 19.5 44.5 22.5M38.2 18.3Q41.1 20.5 43.1 23.4M2.6 18.5Q-0.4 16.7 -3.2 14.7M66.6 18.5Q63.6 16.7 60.8 14.7M2.2 17.1Q-0.2 16.3 -0.9 13.9M66.2 17.1Q63.8 16.3 63.1 13.9M3.5 17.2Q1.9 14.2 -0.3 11.7M67.5 17.2Q65.9 14.2 63.7 11.7M7.3 17.7Q4.5 15.4 1 14.2M71.3 17.7Q68.5 15.4 65 14.2M7.3 15.5Q4.3 15.8 2.4 13.3M7.6 13.6Q5.7 11.7 3.3 12.6M45.1 32.7Q43.8 30.2 42.5 27.8M46 31.3Q46.7 28.6 44.1 27.6M47.8 31.9Q47.5 28.2 45 25.3M26 35.1Q23.2 38.1 22 41.9M25.5 35.5Q23.3 38.2 20.1 39.6M23.3 34.4Q20.7 35.8 19.7 38.5M6.3 5Q2.6 6.4 -1 5M70.3 5Q66.6 6.4 63 5M5.4 2.9Q2.9 4.9 -0.1 3.8M69.4 2.9Q66.9 4.9 63.9 3.8M0.2 17.2Q-1.4 19.7 -3.8 21.3M64.2 17.2Q62.6 19.7 60.2 21.3M-1.6 15.1Q-4.7 17.2 -4.9 20.9M62.4 15.1Q59.3 17.2 59.1 20.9M61.1 14.4Q60.6 17.5 58.3 19.7M60.8 13.6Q58 15.6 56.7 18.7M36.6 30Q33.4 29.3 30.2 29.8M35.8 28.4Q33.3 29.6 30.8 28.5M36 27.3Q33.3 25.5 30.3 26.5M11.9 43Q9.3 42.7 7.2 44.3M11 41.3Q8.4 41.5 7 43.7M11.9 39.7Q8.8 42.4 4.7 42.3M8.4 17.5Q5.1 18.8 2.5 21.1M6.7 16.7Q3.9 16.6 2.2 19M5.7 15.1Q3.7 16.7 1.2 17.6M69.7 15.1Q67.7 16.7 65.2 17.6M38.3 11.1Q39.7 9.4 41.6 8.3M39.1 12.5Q41.8 12 43.1 9.5M40.1 13Q41.7 11.6 43.8 11M58.4 3.2Q58.4 0.7 56.6 -1.2M58.4 67.2Q58.4 64.7 56.6 62.8M60.3 2.8Q59.6 -0 57.5 -2M60.3 66.8Q59.6 64 57.5 62M2.6 43.2Q1.1 45.1 1.6 47.4M66.6 43.2Q65.1 45.1 65.6 47.4M2.1 43Q1.2 45.1 0 47M66.1 43Q65.2 45.1 64 47M-0.3 42.1Q0.8 44.7 -0.5 47.1M63.7 42.1Q64.8 44.7 63.5 47.1M-1.8 41.8Q-1.6 44.2 -2.6 46.4M62.2 41.8Q62.4 44.2 61.4 46.4M52.8 4.2Q49.5 4.3 46.7 2.7M52 3.2Q49.6 3.1 47.8 1.5M52 67.2Q49.6 67.1 47.8 65.5M52.4 0.8Q50.2 0.9 47.9 0.8M52.4 64.8Q50.2 64.9 47.9 64.8M54 -0.3Q50.5 -1.1 46.8 -0.8M54 63.7Q50.5 62.9 46.8 63.2M-5.2 28.6Q-1.9 27 1.8 27.1M58.8 28.6Q62.1 27 65.8 27.1M-4.3 29.6Q-1.1 29.3 1.8 28.1M59.7 29.6Q62.9 29.3 65.8 28.1M-3 32Q0.5 31.6 1.8 28.3M61 32Q64.5 31.6 65.8 28.3M-2.5 33.5Q-0.2 31.2 2.5 29.4M61.5 33.5Q63.8 31.2 66.5 29.4M54.9 48Q51.8 47 50.1 44.1M55.5 47Q53 45.2 50.8 43M56.7 45.2Q54.5 42.6 51.1 42.2M56.7 44.2Q54.3 43 52.6 40.9M45.4 41.9Q45.9 38.8 48.7 37.6M45.9 42.6Q46.9 39.7 49.9 39M45.3 43.7Q48.2 40.6 52.4 40.2M42 60.3Q45.7 59.4 49.4 60.4M42.1 -3.5Q45.6 -2.6 48.8 -1M42.1 60.5Q45.6 61.4 48.8 63M42.5 -1.3Q44.7 1.1 47.8 0.3M42.5 62.7Q44.7 65.1 47.8 64.3M53.2 32.9Q52.9 29.9 52.7 26.8M54.7 32.1Q55.2 29.8 54 27.7M1.9 -1.9Q0.7 0.2 0.8 2.6M1.9 62.1Q0.7 64.2 0.8 66.6M65.9 -1.9Q64.7 0.2 64.8 2.6M65.9 62.1Q64.7 64.2 64.8 66.6M0.7 -2Q-1.6 -0.4 -0.4 2M0.7 62Q-1.6 63.6 -0.4 66M64.7 -2Q62.4 -0.4 63.6 2M64.7 62Q62.4 63.6 63.6 66M-0.7 -4.2Q0.1 -0 -2.5 3.3M-0.7 59.8Q0.1 64 -2.5 67.3M63.3 -4.2Q64.1 -0 61.5 3.3M63.3 59.8Q64.1 64 61.5 67.3M31.6 19.9Q29.7 21 27.9 22.2M32.4 17.3Q28.9 19.1 25.8 21.5M32.1 17.4Q28.9 19.5 25.2 18.9M20.1 8.7Q22.1 5.9 22.9 2.6M22.7 9.4Q23.1 6 23.5 2.6" stroke="#8198a7" stroke-width="0.7" fill="none" stroke-linecap="round" opacity="0.55"/></pattern><filter id="blur3" x="-30%" y="-30%" width="160%" height="160%"><feGaussianBlur stdDeviation="4.2"/></filter><filter id="blur2" x="-30%" y="-30%" width="160%" height="160%"><feGaussianBlur stdDeviation="2.5"/></filter><clipPath id="clipOuter"><path d="M76 291C76.1 289.7 76.1 285.7 76.6 283C77.1 280.3 77.3 279.2 78.8 275C80.2 270.8 82.3 263.3 85 257.5C87.7 251.7 91.3 245.3 95 240C98.7 234.7 103.5 229 107 225.6C110.5 222.2 113.8 220.4 116 219.6C118.2 218.8 119.3 220.6 120 220.8C120.5 220 121.4 217.6 123 216.2C124.6 214.8 125.8 214.1 129.5 212.4C133.2 210.7 138.2 208.3 145 206.2C151.8 204.2 163.3 201.4 170 200C176.7 198.6 179.4 198.2 185 197.6C190.6 197 199.5 196.3 203.8 196.3C208 196.3 208.8 196.9 210.5 197.8C212.2 198.8 213.3 201.3 213.9 202C214.4 201.3 215.2 198.9 217 198C218.8 197.1 219.9 196.4 225 196.3C230.1 196.2 241.3 196.5 247.5 197.2C253.7 197.9 256.8 199.3 262 200.6C267.2 201.9 272.8 203 278.8 205C284.8 207 293.6 210.7 298 212.6C302.4 214.5 303.3 215 305 216.4C306.7 217.8 307.8 220.1 308.4 220.8C309.1 220.6 310.9 219.4 312.5 219.8C314.1 220.2 315.3 220.3 318 223C320.7 225.7 324.9 230.7 328.8 236C332.6 241.3 337.7 248.9 341 255C344.3 261.1 346.9 267.5 348.8 272.5C350.6 277.5 351.4 281.8 352 285C352.6 288.2 352.3 290.8 352.4 292C352.1 294.2 351.4 300.8 350.6 305C349.8 309.2 348.9 313.3 347.5 317.5C346.1 321.7 344.6 326.5 342.5 330C340.4 333.5 338.3 335.7 335 338.8C331.7 341.8 326.7 345.8 322.5 348.3C318.3 350.8 315.2 352.1 310 353.6C304.8 355.2 297.5 356.6 291.2 357.6C285 358.6 279.4 359 272.5 359.5C265.6 360 259.8 360.2 250 360.4C240.2 360.6 225.7 360.7 214 360.7C202.3 360.7 190.5 360.7 180 360.4C169.5 360.1 159.2 359.7 151.2 359.1C143.3 358.5 138.8 357.6 132.5 356.6C126.2 355.6 119 354.8 113.8 353.2C108.5 351.6 105 349.6 101.2 347C97.5 344.4 94.2 341 91.2 337.5C88.3 334 85.8 330.6 83.8 326.2C81.7 321.9 80 316 78.8 311.2C77.5 306.5 76.8 301.4 76.3 298C75.8 294.6 76 292.2 76 291Z"/></clipPath><clipPath id="clipBody"><path d="M213.9 223C210.1 223.3 197.9 223.8 191 225C184.1 226.2 177.7 228.1 172.5 230C167.3 231.9 163.8 233.9 160 236.5C156.2 239.1 153.3 242.1 150 245.5C146.7 248.9 143.7 253.8 140 257C136.3 260.2 131.9 261.7 128 264.5C124.1 267.3 119.3 270.4 116.5 274C113.7 277.6 112 281.8 111.3 286C110.6 290.2 110.9 295 112.5 299C114.1 303 116.8 306.6 121 310C125.2 313.4 131.5 316.8 138 319.5C144.5 322.2 152.4 324.7 160 326.3C167.6 327.9 177.1 329.1 183.8 329.4C190.4 329.7 195.4 328.8 200 328.2C204.6 327.6 209.4 326.4 211.2 326C212.9 326.2 216.5 326.9 221.2 327.5C226 328.1 233.2 329.5 240 329.4C246.8 329.3 254.5 328.8 262 327C269.5 325.2 279.1 321.2 285 318.8C290.9 316.3 294 314.8 297.5 312.5C301 310.2 303.9 307.7 306.2 305C308.6 302.3 310.4 299.4 311.5 296.2C312.6 293.1 313.5 289.6 313 286.2C312.5 282.9 311.1 279.4 308.5 276C305.9 272.6 301.4 268.9 297.5 266C293.6 263.1 288.1 261.4 285 258.8C281.9 256.1 280.8 252.7 278.8 250C276.7 247.3 275.6 245.2 272.5 242.5C269.4 239.8 263.8 236 260 233.8C256.2 231.5 254.2 230.2 250 228.8C245.8 227.3 241 226 235 225C229 224 217.4 223.3 213.9 223Z"/></clipPath><clipPath id="clipPolyS"><path d="M99 534.4C98.4 535.3 96.6 538.1 95.5 540C94.4 541.9 93.5 542.5 92.5 546C91.5 549.5 89.9 555.8 89.2 561C88.5 566.2 88.3 572.9 88.4 577.5C88.5 582.1 88.7 584.6 89.8 588.5C90.8 592.4 92.7 597.9 94.6 601C96.5 604.1 98.4 605.2 101 607C103.6 608.8 106.2 610.2 110 611.5C113.8 612.8 119 614.1 124 615C129 615.9 134.7 616.8 140 617C145.3 617.2 150.7 616.7 156 616C161.3 615.3 166.3 614 172 613C177.7 612 182 610.8 190 610C198 609.2 215 608.8 220 608.5C226.7 608.4 246.7 608.1 260 608C273.3 607.9 283.3 608.1 300 608C316.7 607.9 340 607.7 360 607.6C380 607.5 400 607.5 420 607.4C440 607.3 460 607.1 480 607C500 606.9 523.3 606.8 540 606.7C556.7 606.6 570 606.5 580 606.3C590 606.1 592.3 606 600 605.7C607.7 605.4 618.5 605.1 626 604.8C633.5 604.4 639.7 604 645 603.5C650.3 603 653.6 602.7 657.8 602C661.9 601.3 666 600.8 670 599.5C674 598.2 677.9 596.2 682 594C686.1 591.8 691 589.1 694.5 586.4C698 583.7 700.8 581.7 703 578C705.2 574.3 707 568.9 708 564C709 559.1 709.2 553.7 709 548.8C708.8 543.8 706.9 536.8 706.5 534.4L99 534.4Z"/></clipPath><clipPath id="clipBodyS"><path d="M157.3 519.2C157.6 519.8 158.9 521.4 159.2 523C159.5 524.6 159.5 527 159.2 529C158.9 531 156.5 534.1 157.6 535C158.7 535.9 163.9 535.1 166 534.6C168.1 534.1 167.7 533.8 170 532C172.3 530.2 176.7 526.4 180 524C183.3 521.6 186.7 519.5 190 517.5C193.3 515.5 196.7 513.5 200 512C203.3 510.5 206.7 509.5 210 508.5C213.3 507.5 216.7 506.7 220 506C223.3 505.3 226.7 504.8 230 504.3C233.3 503.8 233.3 503.6 240 503.2C246.7 502.8 260.7 501.8 270 502C279.3 502.2 289.3 504 296 504.4C302.7 504.8 304.3 505 310 504.4C315.7 503.8 324.3 501.7 330 501C335.7 500.3 339 499.8 344 500C349 500.2 354 501.1 360 502C366 502.9 375.3 504.1 380 505.5C384.7 506.9 384.7 509.6 388 510.5C391.3 511.4 394.7 510.9 400 511C405.3 511.1 413.3 510.7 420 511C426.7 511.3 433.3 512.4 440 513C446.7 513.6 453.3 514.1 460 514.4C466.7 514.7 473.3 514.7 480 515C486.7 515.3 495 515.2 500 516C505 516.8 506.7 518.7 510 520C513.3 521.3 516.3 522.7 520 524C523.7 525.3 527.8 526.8 532 528C536.2 529.2 540.3 530.1 545 531C549.7 531.9 552.5 532.9 560 533.5C567.5 534.1 580 534.5 590 534.5C600 534.5 613 534.1 620 533.6C627 533.1 628 532.6 632 531.7C636 530.8 640.6 529.9 644 528C647.4 526.1 650.2 523.5 652.2 520.5C654.2 517.5 655.1 513.2 656 510C656.9 506.8 656.9 503 657.4 501C657.9 499 658.2 498.8 659 498.2C659.8 497.6 660.9 497.4 662 497.4C663.1 497.4 664.5 497.4 665.4 498C666.3 498.6 667 499 667.4 501C667.8 503 667.9 505 668 510C668.1 515 668.2 524 668.3 531C668.3 538 668.5 546.9 668.3 552C668.1 557.1 667.9 559.3 667.2 561.7C666.5 564.1 664.7 565.5 664.2 566.2C663.1 566.4 661.1 567.4 657.5 567.3C653.9 567.2 647.5 566.4 642.5 565.7C637.5 565 631.2 563.6 627.5 563C623.8 562.4 624.6 562.1 620 562.3C615.4 562.5 606.7 563.4 600 564C593.3 564.6 586.7 565.3 580 566C573.3 566.7 566.7 567.5 560 568C553.3 568.5 546.7 569.5 540 569C533.3 568.5 526.7 566.3 520 565C513.3 563.7 506.7 562.2 500 561C493.3 559.8 486.7 558.5 480 558C473.3 557.5 466.7 557.8 460 558C453.3 558.2 446.7 558.6 440 559C433.3 559.4 426 559.7 420 560.4C414 561.1 409 561.7 404 563C399 564.3 394 565.8 390 568C386 570.2 383.3 573.7 380 576C376.7 578.3 374 580.8 370 582C366 583.2 361 583.5 356 583C351 582.5 345 580.8 340 579C335 577.2 331 574.2 326 572C321 569.8 315 567.2 310 566C305 564.8 301 564.8 296 565C291 565.2 286 565.2 280 567C274 568.8 266.7 572.5 260 576C253.3 579.5 246.7 585.3 240 588C233.3 590.7 226.7 591.8 220 592C213.3 592.2 206 590.5 200 589C194 587.5 188.2 584.7 184 583C179.8 581.3 178.3 580.7 175 578.9C171.7 577.1 167.2 573.6 164 572C160.8 570.4 159 569.8 155.8 569.3C152.5 568.8 148.4 568.6 144.8 569.3C141.1 570 137.2 571.7 133.8 573.4C130.3 575.1 127.5 577.9 124 579.6C120.5 581.3 117.1 583.1 113 583.7C108.9 584.3 103.5 584 99.4 583C95.3 582 90.4 578.4 88.6 577.5C87.2 575.9 82.3 571.2 80 568C77.7 564.8 76.2 561.7 75 558C73.8 554.3 72.8 550 73 546C73.2 542 74.2 538 76 534C77.8 530 80.7 525.3 84 522C87.3 518.7 92.3 516.1 96 514C99.7 511.9 102.7 510.3 106 509.6C109.3 508.9 113.5 509.6 116 509.8C118.5 510 119.6 510.5 121 510.8C122.4 511.1 123.9 511.3 124.5 511.4C125 511.2 126.5 510.7 127.5 510.2C128.5 509.7 129.4 508.7 130.5 508.3C131.6 507.9 133.4 507.7 134 507.6C134.6 508.1 136.5 509.4 137.5 510.5C138.5 511.6 139 513.2 140 514C141 514.8 142.2 515.3 143.5 515.4C144.8 515.5 146.2 514.7 147.5 514.8C148.8 514.9 149.8 515.6 151 516C152.2 516.4 153.3 516.5 154.4 517C155.5 517.5 156.8 518.8 157.3 519.2Z"/></clipPath><filter id="blur5" x="-10%%" y="-40%%" width="120%%" height="180%%"><feGaussianBlur stdDeviation="5"/></filter>
</defs>
<rect x="0" y="0" width="800" height="800" fill="#ffffff"/>
<!-- top band -->
<rect x="0" y="0" width="800" height="93" fill="#b87b39"/>
<!-- cross section label -->
<rect x="239.2" y="134" width="321.4" height="37.5" rx="4" ry="4" fill="#ffffff" stroke="#b87b39" stroke-width="3.2"/>
<!-- side view label -->
<rect x="299.8" y="412" width="201.6" height="37.2" rx="4" ry="4" fill="#ffffff" stroke="#b87b39" stroke-width="3.2"/>
<!-- legend -->
<rect x="407.5" y="251.5" width="33" height="33" fill="url(#down)" stroke="#66737b" stroke-width="1"/><rect x="407.5" y="301.5" width="33" height="33" fill="url(#polyB)" stroke="#6a665e" stroke-width="1"/>
<path d="M670 249.3C670.9 249.3 671.6 249.7 672.2 250.2C672.8 250.8 673.2 251.5 673.4 252.4C673.7 253.4 673.8 254.5 673.8 255.9C673.7 257.3 673.5 259.3 673.1 260.9C672.8 262.4 672.1 263.9 671.6 265.2C671 266.6 670.7 267.6 670 269C669.3 270.4 668.4 272 667.5 273.4C666.6 274.7 665.5 276 664.4 277.1C663.2 278.3 662 279.4 660.6 280.2C659.3 281.1 657.6 281.9 656.2 282.4C654.9 283 653.8 283.2 652.5 283.4C651.2 283.5 649.9 283.1 648.8 283.2C647.6 283.4 646.5 284 645.6 284C644.7 284 644 283.6 643.4 283.1C642.9 282.5 642.6 281.7 642.4 280.9C642.2 280 642.1 278.9 642.2 278.1C642.3 277.2 642.7 275.9 643 275.6C643.3 275.2 643.8 276.6 644.2 275.9C644.7 275.2 644.9 273 645.6 271.5C646.4 270 647.6 268.6 648.8 267.1C649.9 265.7 651.2 264.1 652.5 262.8C653.8 261.4 655 260.2 656.2 259C657.5 257.8 658.8 256.4 660 255.2C661.2 254.1 662.6 253 663.8 252.1C664.9 251.3 665.8 250.6 666.9 250.1C667.9 249.7 669.1 249.3 670 249.3Z" fill="#3a7596"/><path d="M643.4 283.1 L639.4 281.5 L637.4 280.1 L640 280.4 L642.8 281.5 Z" fill="#3a7596" stroke="#3a7596" stroke-width="0.6" stroke-linejoin="round"/><path d="M642.8 283.7 L638.8 284 L635.5 283.2 L639.4 282.9 L642.5 282.6 Z" fill="#3a7596" stroke="#3a7596" stroke-width="0.6" stroke-linejoin="round"/><path d="M641.9 284.6 L640.6 287.1 L641.4 289.1 L642.2 287.1 L643.1 284.9 Z" fill="#3a7596" stroke="#3a7596" stroke-width="0.6" stroke-linejoin="round"/><path d="M644.1 284 L645.9 286.2 L647.5 287.1 L646.4 284.9 L645 283.4 Z" fill="#3a7596" stroke="#3a7596" stroke-width="0.6" stroke-linejoin="round"/><path d="M640.8 285.2C642.1 284.4 646.4 282 648.8 280.2C651.1 278.5 653.2 276.5 655 274.6C656.8 272.8 658.6 269.9 659.4 269" fill="none" stroke="#dbe8ef" stroke-width="1" stroke-linecap="round" opacity="0.9"/><path d="M659.4 269L661.6 264.6" fill="none" stroke="#9dbccd" stroke-width="0.6" stroke-linecap="round" opacity="0.7"/>
<path d="M76 291C76.1 289.7 76.1 285.7 76.6 283C77.1 280.3 77.3 279.2 78.8 275C80.2 270.8 82.3 263.3 85 257.5C87.7 251.7 91.3 245.3 95 240C98.7 234.7 103.5 229 107 225.6C110.5 222.2 113.8 220.4 116 219.6C118.2 218.8 119.3 220.6 120 220.8C120.5 220 121.4 217.6 123 216.2C124.6 214.8 125.8 214.1 129.5 212.4C133.2 210.7 138.2 208.3 145 206.2C151.8 204.2 163.3 201.4 170 200C176.7 198.6 179.4 198.2 185 197.6C190.6 197 199.5 196.3 203.8 196.3C208 196.3 208.8 196.9 210.5 197.8C212.2 198.8 213.3 201.3 213.9 202C214.4 201.3 215.2 198.9 217 198C218.8 197.1 219.9 196.4 225 196.3C230.1 196.2 241.3 196.5 247.5 197.2C253.7 197.9 256.8 199.3 262 200.6C267.2 201.9 272.8 203 278.8 205C284.8 207 293.6 210.7 298 212.6C302.4 214.5 303.3 215 305 216.4C306.7 217.8 307.8 220.1 308.4 220.8C309.1 220.6 310.9 219.4 312.5 219.8C314.1 220.2 315.3 220.3 318 223C320.7 225.7 324.9 230.7 328.8 236C332.6 241.3 337.7 248.9 341 255C344.3 261.1 346.9 267.5 348.8 272.5C350.6 277.5 351.4 281.8 352 285C352.6 288.2 352.3 290.8 352.4 292C352.1 294.2 351.4 300.8 350.6 305C349.8 309.2 348.9 313.3 347.5 317.5C346.1 321.7 344.6 326.5 342.5 330C340.4 333.5 338.3 335.7 335 338.8C331.7 341.8 326.7 345.8 322.5 348.3C318.3 350.8 315.2 352.1 310 353.6C304.8 355.2 297.5 356.6 291.2 357.6C285 358.6 279.4 359 272.5 359.5C265.6 360 259.8 360.2 250 360.4C240.2 360.6 225.7 360.7 214 360.7C202.3 360.7 190.5 360.7 180 360.4C169.5 360.1 159.2 359.7 151.2 359.1C143.3 358.5 138.8 357.6 132.5 356.6C126.2 355.6 119 354.8 113.8 353.2C108.5 351.6 105 349.6 101.2 347C97.5 344.4 94.2 341 91.2 337.5C88.3 334 85.8 330.6 83.8 326.2C81.7 321.9 80 316 78.8 311.2C77.5 306.5 76.8 301.4 76.3 298C75.8 294.6 76 292.2 76 291Z" fill="#ffffff"/><g clip-path="url(#clipOuter)"><path d="M213.9 223C210.1 223.3 197.9 223.8 191 225C184.1 226.2 177.7 228.1 172.5 230C167.3 231.9 163.8 233.9 160 236.5C156.2 239.1 153.3 242.1 150 245.5C146.7 248.9 143.7 253.8 140 257C136.3 260.2 131.9 261.7 128 264.5C124.1 267.3 119.3 270.4 116.5 274C113.7 277.6 112 281.8 111.3 286C110.6 290.2 110.9 295 112.5 299C114.1 303 116.8 306.6 121 310C125.2 313.4 131.5 316.8 138 319.5C144.5 322.2 152.4 324.7 160 326.3C167.6 327.9 177.1 329.1 183.8 329.4C190.4 329.7 195.4 328.8 200 328.2C204.6 327.6 209.4 326.4 211.2 326C212.9 326.2 216.5 326.9 221.2 327.5C226 328.1 233.2 329.5 240 329.4C246.8 329.3 254.5 328.8 262 327C269.5 325.2 279.1 321.2 285 318.8C290.9 316.3 294 314.8 297.5 312.5C301 310.2 303.9 307.7 306.2 305C308.6 302.3 310.4 299.4 311.5 296.2C312.6 293.1 313.5 289.6 313 286.2C312.5 282.9 311.1 279.4 308.5 276C305.9 272.6 301.4 268.9 297.5 266C293.6 263.1 288.1 261.4 285 258.8C281.9 256.1 280.8 252.7 278.8 250C276.7 247.3 275.6 245.2 272.5 242.5C269.4 239.8 263.8 236 260 233.8C256.2 231.5 254.2 230.2 250 228.8C245.8 227.3 241 226 235 225C229 224 217.4 223.3 213.9 223Z" fill="#4a4a4a" opacity="0.54" filter="url(#blur3)" transform="translate(2.5,6.5)"/></g><path d="M352.4 292C352.1 294.2 351.4 300.8 350.6 305C349.8 309.2 348.9 313.3 347.5 317.5C346.1 321.7 344.6 326.5 342.5 330C340.4 333.5 338.3 335.7 335 338.8C331.7 341.8 326.7 345.8 322.5 348.3C318.3 350.8 315.2 352.1 310 353.6C304.8 355.2 297.5 356.6 291.2 357.6C285 358.6 279.4 359 272.5 359.5C265.6 360 259.8 360.2 250 360.4C240.2 360.6 225.7 360.7 214 360.7C202.3 360.7 190.5 360.7 180 360.4C169.5 360.1 159.2 359.7 151.2 359.1C143.3 358.5 138.8 357.6 132.5 356.6C126.2 355.6 119 354.8 113.8 353.2C108.5 351.6 105 349.6 101.2 347C97.5 344.4 94.2 341 91.2 337.5C88.3 334 85.8 330.6 83.8 326.2C81.7 321.9 80 316 78.8 311.2C77.5 306.5 76.8 301.4 76.3 298C75.8 294.6 76 292.2 76 291L93 292.5C93.3 294.6 93.8 301.2 95 305C96.2 308.8 97.9 312.1 100 315C102.1 317.9 104.2 320.2 107.5 322.5C110.8 324.8 115.8 327.3 120 328.8C124.2 330.3 127.3 330.6 132.5 331.3C137.7 332.1 145 332.8 151.2 333.3C157.5 333.9 159.5 334.3 170 334.6C180.5 334.9 199 335.1 214 335.2C229 335.3 249.2 335.5 260 335.2C270.8 334.9 272.5 334.3 278.8 333.6C285 332.9 291.9 332.1 297.5 331C303.1 329.9 308.3 329.1 312.5 327.2C316.7 325.4 319.6 322.7 322.5 320C325.4 317.3 328.1 314.2 330 311.2C331.9 308.3 332.9 305.5 333.8 302.5C334.6 299.5 334.8 294.6 335 293L352.4 292Z" fill="url(#polyB)" stroke="#262626" stroke-width="0.8"/><path d="M88.8 311C89.8 312.9 92.5 319.3 95 322.5C97.5 325.7 100.6 328 103.8 330C106.9 332 110 333.5 113.8 334.8C117.5 336 122.1 336.7 126.2 337.2C130.4 337.8 134.6 337.6 138.8 338.2C142.9 338.8 146 339.8 151.2 340.8C156.5 341.8 163.5 343.9 170 344.4C176.5 344.8 184.6 343.4 190 343.5C195.4 343.6 197.9 344.2 202.5 344.8C207.1 345.3 212.3 346.6 217.5 346.6C222.7 346.6 229 345.3 233.8 344.8C238.5 344.2 241.9 343.4 246.2 343.5C250.6 343.6 255.6 345.6 260 345.6C264.4 345.6 268.3 344.5 272.5 343.5C276.7 342.5 280.8 340.5 285 339.8C289.2 339 293.3 339.4 297.5 339C301.7 338.6 305.8 338.5 310 337.2C314.2 336 319 333.5 322.5 331.2C326 329 328.8 326 331.2 323.8C333.8 321.5 336.5 318.5 337.5 317.5C336.9 318.8 335.8 322.3 333.8 325C331.7 327.7 328.3 331.1 325 333.8C321.7 336.4 317.7 339.4 313.8 341C309.8 342.6 305.4 343.1 301.2 343.5C297.1 343.9 292.5 343 288.8 343.2C285 343.4 282.5 343.9 278.8 344.8C275 345.6 271.4 348 266 348.3C260.6 348.6 252 346.6 246.2 346.6C240.5 346.6 236 347.8 231.2 348.5C226.5 349.2 222.3 350.8 217.5 350.8C212.7 350.8 207.1 349.2 202.5 348.5C197.9 347.8 195.4 346.4 190 346.6C184.6 346.8 175.4 349.4 170 349.5C164.6 349.6 161.7 348 157.5 347C153.3 346 149.2 344.3 145 343.5C140.8 342.7 136.7 342.7 132.5 342.2C128.3 341.8 124.2 342.2 120 341C115.8 339.8 111 337.2 107.5 335C104 332.8 101.5 330.4 98.8 327.5C96 324.6 92.9 320.2 91.2 317.5C89.6 314.8 89.2 312.1 88.8 311Z" fill="#ffffff" stroke="#262626" stroke-width="0.8"/><path d="M84.4 292.5C84.6 293.8 85.2 297.8 85.6 300C86 302.2 86.3 304.2 86.8 306C87.3 307.8 88.4 310.2 88.8 311M343 293C342.8 294.2 342.4 297.3 342 300C341.6 302.7 341.2 306.1 340.5 309C339.8 311.9 338 316.1 337.5 317.5" fill="none" stroke="#262626" stroke-width="0.9"/><path d="M76 291C76.1 289.7 76.1 285.7 76.6 283C77.1 280.3 77.3 279.2 78.8 275C80.2 270.8 82.3 263.3 85 257.5C87.7 251.7 91.3 245.3 95 240C98.7 234.7 103.5 229 107 225.6C110.5 222.2 113.8 220.4 116 219.6C118.2 218.8 119.3 220.6 120 220.8L135.6 239.4C135.3 241 134.9 245.3 133.8 248.8C132.6 252.2 131 256 128.8 260C126.5 264 123 268.8 120 272.5C117 276.2 113.3 280 111 282.5C108.7 285 108 285.9 106 287.5C104 289.1 101.9 291.1 99 292C96.1 292.9 92.6 293.2 88.8 293C84.9 292.8 78.1 291.3 76 291Z" fill="url(#down)" stroke="#262626" stroke-width="1" stroke-linejoin="round"/><path d="M120 220.8C120.5 220 121.4 217.6 123 216.2C124.6 214.8 125.8 214.1 129.5 212.4C133.2 210.7 138.2 208.3 145 206.2C151.8 204.2 163.3 201.4 170 200C176.7 198.6 179.4 198.2 185 197.6C190.6 197 199.5 196.3 203.8 196.3C208 196.3 208.8 196.9 210.5 197.8C212.2 198.8 213.3 201.3 213.9 202L213.9 226C209.9 226.3 197.3 226.5 190 228C182.7 229.5 175.5 232.5 170 235C164.5 237.5 161.8 242.1 157 243C152.2 243.9 144.6 241 141 240.4C137.4 239.8 136.5 239.6 135.6 239.4L120 220.8Z" fill="url(#down)" stroke="#262626" stroke-width="1" stroke-linejoin="round"/><path d="M213.9 202C214.4 201.3 215.2 198.9 217 198C218.8 197.1 219.9 196.4 225 196.3C230.1 196.2 241.3 196.5 247.5 197.2C253.7 197.9 256.8 199.3 262 200.6C267.2 201.9 272.8 203 278.8 205C284.8 207 293.6 210.7 298 212.6C302.4 214.5 303.3 215 305 216.4C306.7 217.8 307.8 220.1 308.4 220.8L292.8 238.8C291.5 239.1 288.5 239.9 285 240.6C281.5 241.3 276.5 243.8 272 243C267.5 242.2 263.3 238.5 258 236C252.7 233.5 247.3 229.7 240 228C232.7 226.3 218.2 226.3 213.9 226L213.9 202Z" fill="url(#down)" stroke="#262626" stroke-width="1" stroke-linejoin="round"/><path d="M308.4 220.8C309.1 220.6 310.9 219.4 312.5 219.8C314.1 220.2 315.3 220.3 318 223C320.7 225.7 324.9 230.7 328.8 236C332.6 241.3 337.7 248.9 341 255C344.3 261.1 346.9 267.5 348.8 272.5C350.6 277.5 351.4 281.8 352 285C352.6 288.2 352.3 290.8 352.4 292C349.9 292.2 341.6 293.1 337.5 293C333.4 292.9 330.6 292.6 327.5 291.5C324.4 290.4 321 288 318.8 286.5C316.5 285 315.2 283.6 313.8 282.5C312.3 281.4 312.5 283.1 310 280C307.5 276.9 301.5 268.8 298.8 263.8C296 258.8 294.8 254.2 293.8 250C292.8 245.8 292.9 240.6 292.8 238.8L308.4 220.8Z" fill="url(#down)" stroke="#262626" stroke-width="1" stroke-linejoin="round"/><path d="M213.9 223C210.1 223.3 197.9 223.8 191 225C184.1 226.2 177.7 228.1 172.5 230C167.3 231.9 163.8 233.9 160 236.5C156.2 239.1 153.3 242.1 150 245.5C146.7 248.9 143.7 253.8 140 257C136.3 260.2 131.9 261.7 128 264.5C124.1 267.3 119.3 270.4 116.5 274C113.7 277.6 112 281.8 111.3 286C110.6 290.2 110.9 295 112.5 299C114.1 303 116.8 306.6 121 310C125.2 313.4 131.5 316.8 138 319.5C144.5 322.2 152.4 324.7 160 326.3C167.6 327.9 177.1 329.1 183.8 329.4C190.4 329.7 195.4 328.8 200 328.2C204.6 327.6 209.4 326.4 211.2 326C212.9 326.2 216.5 326.9 221.2 327.5C226 328.1 233.2 329.5 240 329.4C246.8 329.3 254.5 328.8 262 327C269.5 325.2 279.1 321.2 285 318.8C290.9 316.3 294 314.8 297.5 312.5C301 310.2 303.9 307.7 306.2 305C308.6 302.3 310.4 299.4 311.5 296.2C312.6 293.1 313.5 289.6 313 286.2C312.5 282.9 311.1 279.4 308.5 276C305.9 272.6 301.4 268.9 297.5 266C293.6 263.1 288.1 261.4 285 258.8C281.9 256.1 280.8 252.7 278.8 250C276.7 247.3 275.6 245.2 272.5 242.5C269.4 239.8 263.8 236 260 233.8C256.2 231.5 254.2 230.2 250 228.8C245.8 227.3 241 226 235 225C229 224 217.4 223.3 213.9 223Z" fill="#efe9d6" stroke="#262626" stroke-width="1.2" stroke-linejoin="round"/><g clip-path="url(#clipBody)"><path d="M211.7 231C214.5 231 217.5 231.4 220 232.3C222.5 233.2 224.4 234.2 226.8 236.2C229.2 238.3 232.5 241.7 234.5 244.4C236.5 247.1 237.4 248.4 238.8 252.5C240.2 256.6 242.1 263.3 243 268.8C243.9 274.2 244.2 279.7 244 285C243.8 290.3 242.9 296.4 241.6 300.5C240.3 304.6 238.7 307.1 236 309.6C233.3 312.2 229.6 314.4 225.5 315.8C221.4 317.2 216.3 318 211.7 318C207.1 318 202 317.2 198 315.8C194 314.4 190.2 312.2 187.6 309.6C185 307.1 183.7 304.6 182.4 300.5C181.1 296.4 179.9 290.3 179.6 285C179.3 279.7 179.7 274.2 180.4 268.8C181.1 263.3 182.7 256.6 184 252.5C185.3 248.4 186.1 247.1 188.2 244.4C190.3 241.7 194.3 238.3 196.8 236.2C199.3 234.2 200.9 233.2 203.4 232.3C205.9 231.4 208.9 231 211.7 231Z" fill="#6b6552" opacity="0.55" filter="url(#blur2)" transform="translate(4,4)"/></g><path d="M211.7 231C214.5 231 217.5 231.4 220 232.3C222.5 233.2 224.4 234.2 226.8 236.2C229.2 238.3 232.5 241.7 234.5 244.4C236.5 247.1 237.4 248.4 238.8 252.5C240.2 256.6 242.1 263.3 243 268.8C243.9 274.2 244.2 279.7 244 285C243.8 290.3 242.9 296.4 241.6 300.5C240.3 304.6 238.7 307.1 236 309.6C233.3 312.2 229.6 314.4 225.5 315.8C221.4 317.2 216.3 318 211.7 318C207.1 318 202 317.2 198 315.8C194 314.4 190.2 312.2 187.6 309.6C185 307.1 183.7 304.6 182.4 300.5C181.1 296.4 179.9 290.3 179.6 285C179.3 279.7 179.7 274.2 180.4 268.8C181.1 263.3 182.7 256.6 184 252.5C185.3 248.4 186.1 247.1 188.2 244.4C190.3 241.7 194.3 238.3 196.8 236.2C199.3 234.2 200.9 233.2 203.4 232.3C205.9 231.4 208.9 231 211.7 231Z" fill="#f3edda" stroke="#262626" stroke-width="1.3"/><path d="M76 291C76.1 289.7 76.1 285.7 76.6 283C77.1 280.3 77.3 279.2 78.8 275C80.2 270.8 82.3 263.3 85 257.5C87.7 251.7 91.3 245.3 95 240C98.7 234.7 103.5 229 107 225.6C110.5 222.2 113.8 220.4 116 219.6C118.2 218.8 119.3 220.6 120 220.8C120.5 220 121.4 217.6 123 216.2C124.6 214.8 125.8 214.1 129.5 212.4C133.2 210.7 138.2 208.3 145 206.2C151.8 204.2 163.3 201.4 170 200C176.7 198.6 179.4 198.2 185 197.6C190.6 197 199.5 196.3 203.8 196.3C208 196.3 208.8 196.9 210.5 197.8C212.2 198.8 213.3 201.3 213.9 202C214.4 201.3 215.2 198.9 217 198C218.8 197.1 219.9 196.4 225 196.3C230.1 196.2 241.3 196.5 247.5 197.2C253.7 197.9 256.8 199.3 262 200.6C267.2 201.9 272.8 203 278.8 205C284.8 207 293.6 210.7 298 212.6C302.4 214.5 303.3 215 305 216.4C306.7 217.8 307.8 220.1 308.4 220.8C309.1 220.6 310.9 219.4 312.5 219.8C314.1 220.2 315.3 220.3 318 223C320.7 225.7 324.9 230.7 328.8 236C332.6 241.3 337.7 248.9 341 255C344.3 261.1 346.9 267.5 348.8 272.5C350.6 277.5 351.4 281.8 352 285C352.6 288.2 352.3 290.8 352.4 292C352.1 294.2 351.4 300.8 350.6 305C349.8 309.2 348.9 313.3 347.5 317.5C346.1 321.7 344.6 326.5 342.5 330C340.4 333.5 338.3 335.7 335 338.8C331.7 341.8 326.7 345.8 322.5 348.3C318.3 350.8 315.2 352.1 310 353.6C304.8 355.2 297.5 356.6 291.2 357.6C285 358.6 279.4 359 272.5 359.5C265.6 360 259.8 360.2 250 360.4C240.2 360.6 225.7 360.7 214 360.7C202.3 360.7 190.5 360.7 180 360.4C169.5 360.1 159.2 359.7 151.2 359.1C143.3 358.5 138.8 357.6 132.5 356.6C126.2 355.6 119 354.8 113.8 353.2C108.5 351.6 105 349.6 101.2 347C97.5 344.4 94.2 341 91.2 337.5C88.3 334 85.8 330.6 83.8 326.2C81.7 321.9 80 316 78.8 311.2C77.5 306.5 76.8 301.4 76.3 298C75.8 294.6 76 292.2 76 291Z" fill="none" stroke="#111111" stroke-width="2.0" stroke-linejoin="miter"/>
<g id="bag"><path d="M688 510C688.3 509.5 688.2 507.6 690 506.8C691.8 505.9 695.2 504.5 698.8 505C702.2 505.5 707.5 507.1 711 510C714.5 512.9 717.5 517.5 719.8 522.5C722 527.5 724 534.4 724.5 540C725 545.6 724.4 550.8 723 556C721.6 561.2 718.8 567 716 571C713.2 575 708.7 577.8 706 580C703.3 582.2 702.3 582.7 700 584C697.7 585.3 693.3 587.3 692 588Z" fill="url(#polyA)" stroke="#454b50" stroke-width="1"/><path d="M99 534.4C98.4 535.3 96.6 538.1 95.5 540C94.4 541.9 93.5 542.5 92.5 546C91.5 549.5 89.9 555.8 89.2 561C88.5 566.2 88.3 572.9 88.4 577.5C88.5 582.1 88.7 584.6 89.8 588.5C90.8 592.4 92.7 597.9 94.6 601C96.5 604.1 98.4 605.2 101 607C103.6 608.8 106.2 610.2 110 611.5C113.8 612.8 119 614.1 124 615C129 615.9 134.7 616.8 140 617C145.3 617.2 150.7 616.7 156 616C161.3 615.3 166.3 614 172 613C177.7 612 182 610.8 190 610C198 609.2 215 608.8 220 608.5C226.7 608.4 246.7 608.1 260 608C273.3 607.9 283.3 608.1 300 608C316.7 607.9 340 607.7 360 607.6C380 607.5 400 607.5 420 607.4C440 607.3 460 607.1 480 607C500 606.9 523.3 606.8 540 606.7C556.7 606.6 570 606.5 580 606.3C590 606.1 592.3 606 600 605.7C607.7 605.4 618.5 605.1 626 604.8C633.5 604.4 639.7 604 645 603.5C650.3 603 653.6 602.7 657.8 602C661.9 601.3 666 600.8 670 599.5C674 598.2 677.9 596.2 682 594C686.1 591.8 691 589.1 694.5 586.4C698 583.7 700.8 581.7 703 578C705.2 574.3 707 568.9 708 564C709 559.1 709.2 553.7 709 548.8C708.8 543.8 706.9 536.8 706.5 534.4L99 534.4Z" fill="url(#polyA)" stroke="#454b50" stroke-width="1"/><path d="M99 534.4C99.6 533.7 101.1 531.6 102.5 530.3C103.9 529 105.4 527.6 107.6 526.6C109.8 525.6 112.7 524.8 115.9 524.2C119.1 523.6 122.8 523.3 126.9 523.2C131 523.1 136.2 523.1 140.6 523.6C144.9 524.1 149.9 525 153 526C156.1 527 158.2 529 159.3 529.6C159.9 529.6 161.2 530.7 163 529.4C164.8 528.1 167.2 524.9 170 522C172.8 519.1 176.7 515 180 512C183.3 509 186.7 506.3 190 504C193.3 501.7 196.7 499.8 200 498C203.3 496.2 206.7 494.8 210 493.5C213.3 492.2 216.5 491.2 220 490C223.5 488.8 229.2 486.7 231 486C234.2 485.4 241.8 483.3 250 482.3C258.2 481.3 270.3 480.4 280 480C289.7 479.6 303.3 480 308 480C310.7 480.1 318.7 479.7 324 480.4C329.3 481.1 335 482.4 340 484C345 485.6 351.7 489 354 490C355.7 489.6 359.7 488.5 364 487.8C368.3 487.1 375.3 486.1 380 486C384.7 485.9 387.7 486.2 392 487C396.3 487.8 401.8 489.5 406 491C410.2 492.5 415.2 495.2 417 496C418.5 495.3 421.5 493.2 426 492C430.5 490.8 438.3 489.3 444 489C449.7 488.7 455 489 460 490C465 491 471.7 494.2 474 495C475.7 494.5 479.7 492.8 484 492C488.3 491.2 495 490.3 500 490.5C505 490.7 509.8 491.7 514 493C518.2 494.3 522 496.6 525 498.5C528 500.4 530.8 503.5 532 504.5C533 503.8 535 501.4 538 500C541 498.6 545.7 496.7 550 496C554.3 495.3 559.7 495.5 564 496C568.3 496.5 572.7 498 576 499C579.3 500 582.7 501.5 584 502C585.3 500.8 588.3 496.8 592 495C595.7 493.2 601.3 491.7 606 491C610.7 490.3 616 490.5 620 491C624 491.5 627.7 493.2 630 494C632.3 494.8 633.3 495.7 634 496C635.5 494.9 639.5 491 643 489.5C646.5 488 650.7 487.1 655 487C659.3 486.9 664.7 487.2 669 489C673.3 490.8 676.9 494.5 681 498C685.1 501.5 690 505.9 693.5 510C697 514.1 699.8 518.4 702 522.5C704.2 526.6 705.8 532.4 706.5 534.4L99 534.4Z" fill="url(#down)" stroke="#454b50" stroke-width="1" stroke-linejoin="round"/><path d="M158 534.4C157.4 537 155.1 545.1 154.6 550C154.1 554.9 154.3 559.9 155 564C155.7 568.1 157 571.2 158.5 574.8C160 578.4 161.5 581.9 164 585.8C166.5 589.7 170.3 594 173.6 598C176.9 602 182.3 608 184 610M231 486C230.5 488.7 229.1 496.3 228 502C226.9 507.7 225.8 512.8 224.5 520C223.2 527.2 221 536.7 220 545C219 553.3 218.8 562.5 218.7 570C218.6 577.5 218.4 583.6 219.5 590C220.6 596.4 224.1 605.2 225 608.2M308 480C306.7 482.7 302 491 300 496C298 501 297.3 503.7 296 510C294.7 516.3 293 525.7 292 534C291 542.3 290.2 552.3 290 560C289.8 567.7 290.3 574.3 291 580C291.7 585.7 292.5 589.3 294 594C295.5 598.7 299 605.7 300 608M354 490C354.3 491 355.3 491 356 496C356.7 501 357.3 511 358 520C358.7 529 359.5 541.7 360 550C360.5 558.3 361 563.3 361 570C361 576.7 360.5 583.7 360 590C359.5 596.3 358.3 604.7 358 607.6M417 496C417.3 498.3 418.3 503.7 419 510C419.7 516.3 420.3 525.7 421 534C421.7 542.3 422.7 553.3 423 560C423.3 566.7 423.5 569 423 574C422.5 579 421.8 584.4 420 590C418.2 595.6 413.3 604.5 412 607.4M474 495C475 496.8 478.5 501.8 480 506C481.5 510.2 482.2 514.3 483 520C483.8 525.7 484.7 532.3 485 540C485.3 547.7 485.5 558.3 485 566C484.5 573.7 483.5 579.2 482 586C480.5 592.8 477 603.5 476 607M532 504.5C533.4 507.1 538.1 512.4 540.5 520C542.9 527.6 545.2 541.7 546.5 550C547.8 558.3 548.2 563.3 548 570C547.8 576.7 546.8 583.9 545.5 590C544.2 596.1 540.9 603.9 540 606.7M584 502C585.7 503.3 591 506.3 594 510C597 513.7 599.8 519.3 602 524C604.2 528.7 605.6 532.4 607 538C608.4 543.6 610.2 551.3 610.5 557.5C610.8 563.7 610.1 569.2 609 575C607.9 580.8 606 586.9 604 592C602 597.1 598.2 603.2 597 605.5M634 496C635.7 497.3 640.7 500.7 644 504C647.3 507.3 651 511.7 654 516C657 520.3 659.8 526 662 530C664.2 534 666.1 535.4 667.4 540C668.7 544.6 669.7 551.7 670 557.5C670.3 563.3 669.9 569.5 669 575C668.1 580.5 666.6 586.2 664.8 590.8C662.9 595.2 658.9 600.1 657.8 602" fill="none" stroke="#454b50" stroke-width="0.8"/></g><g clip-path="url(#clipPolyS)"><path d="M157.3 519.2C157.6 519.8 158.9 521.4 159.2 523C159.5 524.6 159.5 527 159.2 529C158.9 531 156.5 534.1 157.6 535C158.7 535.9 163.9 535.1 166 534.6C168.1 534.1 167.7 533.8 170 532C172.3 530.2 176.7 526.4 180 524C183.3 521.6 186.7 519.5 190 517.5C193.3 515.5 196.7 513.5 200 512C203.3 510.5 206.7 509.5 210 508.5C213.3 507.5 216.7 506.7 220 506C223.3 505.3 226.7 504.8 230 504.3C233.3 503.8 233.3 503.6 240 503.2C246.7 502.8 260.7 501.8 270 502C279.3 502.2 289.3 504 296 504.4C302.7 504.8 304.3 505 310 504.4C315.7 503.8 324.3 501.7 330 501C335.7 500.3 339 499.8 344 500C349 500.2 354 501.1 360 502C366 502.9 375.3 504.1 380 505.5C384.7 506.9 384.7 509.6 388 510.5C391.3 511.4 394.7 510.9 400 511C405.3 511.1 413.3 510.7 420 511C426.7 511.3 433.3 512.4 440 513C446.7 513.6 453.3 514.1 460 514.4C466.7 514.7 473.3 514.7 480 515C486.7 515.3 495 515.2 500 516C505 516.8 506.7 518.7 510 520C513.3 521.3 516.3 522.7 520 524C523.7 525.3 527.8 526.8 532 528C536.2 529.2 540.3 530.1 545 531C549.7 531.9 552.5 532.9 560 533.5C567.5 534.1 580 534.5 590 534.5C600 534.5 613 534.1 620 533.6C627 533.1 628 532.6 632 531.7C636 530.8 640.6 529.9 644 528C647.4 526.1 650.2 523.5 652.2 520.5C654.2 517.5 655.1 513.2 656 510C656.9 506.8 656.9 503 657.4 501C657.9 499 658.2 498.8 659 498.2C659.8 497.6 660.9 497.4 662 497.4C663.1 497.4 664.5 497.4 665.4 498C666.3 498.6 667 499 667.4 501C667.8 503 667.9 505 668 510C668.1 515 668.2 524 668.3 531C668.3 538 668.5 546.9 668.3 552C668.1 557.1 667.9 559.3 667.2 561.7C666.5 564.1 664.7 565.5 664.2 566.2C663.1 566.4 661.1 567.4 657.5 567.3C653.9 567.2 647.5 566.4 642.5 565.7C637.5 565 631.2 563.6 627.5 563C623.8 562.4 624.6 562.1 620 562.3C615.4 562.5 606.7 563.4 600 564C593.3 564.6 586.7 565.3 580 566C573.3 566.7 566.7 567.5 560 568C553.3 568.5 546.7 569.5 540 569C533.3 568.5 526.7 566.3 520 565C513.3 563.7 506.7 562.2 500 561C493.3 559.8 486.7 558.5 480 558C473.3 557.5 466.7 557.8 460 558C453.3 558.2 446.7 558.6 440 559C433.3 559.4 426 559.7 420 560.4C414 561.1 409 561.7 404 563C399 564.3 394 565.8 390 568C386 570.2 383.3 573.7 380 576C376.7 578.3 374 580.8 370 582C366 583.2 361 583.5 356 583C351 582.5 345 580.8 340 579C335 577.2 331 574.2 326 572C321 569.8 315 567.2 310 566C305 564.8 301 564.8 296 565C291 565.2 286 565.2 280 567C274 568.8 266.7 572.5 260 576C253.3 579.5 246.7 585.3 240 588C233.3 590.7 226.7 591.8 220 592C213.3 592.2 206 590.5 200 589C194 587.5 188.2 584.7 184 583C179.8 581.3 178.3 580.7 175 578.9C171.7 577.1 167.2 573.6 164 572C160.8 570.4 159 569.8 155.8 569.3C152.5 568.8 148.4 568.6 144.8 569.3C141.1 570 137.2 571.7 133.8 573.4C130.3 575.1 127.5 577.9 124 579.6C120.5 581.3 117.1 583.1 113 583.7C108.9 584.3 103.5 584 99.4 583C95.3 582 90.4 578.4 88.6 577.5C87.2 575.9 82.3 571.2 80 568C77.7 564.8 76.2 561.7 75 558C73.8 554.3 72.8 550 73 546C73.2 542 74.2 538 76 534C77.8 530 80.7 525.3 84 522C87.3 518.7 92.3 516.1 96 514C99.7 511.9 102.7 510.3 106 509.6C109.3 508.9 113.5 509.6 116 509.8C118.5 510 119.6 510.5 121 510.8C122.4 511.1 123.9 511.3 124.5 511.4C125 511.2 126.5 510.7 127.5 510.2C128.5 509.7 129.4 508.7 130.5 508.3C131.6 507.9 133.4 507.7 134 507.6C134.6 508.1 136.5 509.4 137.5 510.5C138.5 511.6 139 513.2 140 514C141 514.8 142.2 515.3 143.5 515.4C144.8 515.5 146.2 514.7 147.5 514.8C148.8 514.9 149.8 515.6 151 516C152.2 516.4 153.3 516.5 154.4 517C155.5 517.5 156.8 518.8 157.3 519.2Z" fill="#7a6238" opacity="0.42" filter="url(#blur5)" transform="translate(0,4)"/></g><path d="M158 534.4C157.4 537 155.1 545.1 154.6 550C154.1 554.9 154.3 559.9 155 564C155.7 568.1 157 571.2 158.5 574.8C160 578.4 161.5 581.9 164 585.8C166.5 589.7 170.3 594 173.6 598C176.9 602 182.3 608 184 610M231 486C230.5 488.7 229.1 496.3 228 502C226.9 507.7 225.8 512.8 224.5 520C223.2 527.2 221 536.7 220 545C219 553.3 218.8 562.5 218.7 570C218.6 577.5 218.4 583.6 219.5 590C220.6 596.4 224.1 605.2 225 608.2M308 480C306.7 482.7 302 491 300 496C298 501 297.3 503.7 296 510C294.7 516.3 293 525.7 292 534C291 542.3 290.2 552.3 290 560C289.8 567.7 290.3 574.3 291 580C291.7 585.7 292.5 589.3 294 594C295.5 598.7 299 605.7 300 608M354 490C354.3 491 355.3 491 356 496C356.7 501 357.3 511 358 520C358.7 529 359.5 541.7 360 550C360.5 558.3 361 563.3 361 570C361 576.7 360.5 583.7 360 590C359.5 596.3 358.3 604.7 358 607.6M417 496C417.3 498.3 418.3 503.7 419 510C419.7 516.3 420.3 525.7 421 534C421.7 542.3 422.7 553.3 423 560C423.3 566.7 423.5 569 423 574C422.5 579 421.8 584.4 420 590C418.2 595.6 413.3 604.5 412 607.4M474 495C475 496.8 478.5 501.8 480 506C481.5 510.2 482.2 514.3 483 520C483.8 525.7 484.7 532.3 485 540C485.3 547.7 485.5 558.3 485 566C484.5 573.7 483.5 579.2 482 586C480.5 592.8 477 603.5 476 607M532 504.5C533.4 507.1 538.1 512.4 540.5 520C542.9 527.6 545.2 541.7 546.5 550C547.8 558.3 548.2 563.3 548 570C547.8 576.7 546.8 583.9 545.5 590C544.2 596.1 540.9 603.9 540 606.7M584 502C585.7 503.3 591 506.3 594 510C597 513.7 599.8 519.3 602 524C604.2 528.7 605.6 532.4 607 538C608.4 543.6 610.2 551.3 610.5 557.5C610.8 563.7 610.1 569.2 609 575C607.9 580.8 606 586.9 604 592C602 597.1 598.2 603.2 597 605.5M634 496C635.7 497.3 640.7 500.7 644 504C647.3 507.3 651 511.7 654 516C657 520.3 659.8 526 662 530C664.2 534 666.1 535.4 667.4 540C668.7 544.6 669.7 551.7 670 557.5C670.3 563.3 669.9 569.5 669 575C668.1 580.5 666.6 586.2 664.8 590.8C662.9 595.2 658.9 600.1 657.8 602" fill="none" stroke="#454b50" stroke-width="0.8" clip-path="url(#clipPolyS)"/><use href="#bag" clip-path="url(#clipBodyS)"/><g clip-path="url(#clipPolyS)"><path d="M157.3 519.2C157.6 519.8 158.9 521.4 159.2 523C159.5 524.6 159.5 527 159.2 529C158.9 531 156.5 534.1 157.6 535C158.7 535.9 163.9 535.1 166 534.6C168.1 534.1 167.7 533.8 170 532C172.3 530.2 176.7 526.4 180 524C183.3 521.6 186.7 519.5 190 517.5C193.3 515.5 196.7 513.5 200 512C203.3 510.5 206.7 509.5 210 508.5C213.3 507.5 216.7 506.7 220 506C223.3 505.3 226.7 504.8 230 504.3C233.3 503.8 233.3 503.6 240 503.2C246.7 502.8 260.7 501.8 270 502C279.3 502.2 289.3 504 296 504.4C302.7 504.8 304.3 505 310 504.4C315.7 503.8 324.3 501.7 330 501C335.7 500.3 339 499.8 344 500C349 500.2 354 501.1 360 502C366 502.9 375.3 504.1 380 505.5C384.7 506.9 384.7 509.6 388 510.5C391.3 511.4 394.7 510.9 400 511C405.3 511.1 413.3 510.7 420 511C426.7 511.3 433.3 512.4 440 513C446.7 513.6 453.3 514.1 460 514.4C466.7 514.7 473.3 514.7 480 515C486.7 515.3 495 515.2 500 516C505 516.8 506.7 518.7 510 520C513.3 521.3 516.3 522.7 520 524C523.7 525.3 527.8 526.8 532 528C536.2 529.2 540.3 530.1 545 531C549.7 531.9 552.5 532.9 560 533.5C567.5 534.1 580 534.5 590 534.5C600 534.5 613 534.1 620 533.6C627 533.1 628 532.6 632 531.7C636 530.8 640.6 529.9 644 528C647.4 526.1 650.2 523.5 652.2 520.5C654.2 517.5 655.1 513.2 656 510C656.9 506.8 656.9 503 657.4 501C657.9 499 658.2 498.8 659 498.2C659.8 497.6 660.9 497.4 662 497.4C663.1 497.4 664.5 497.4 665.4 498C666.3 498.6 667 499 667.4 501C667.8 503 667.9 505 668 510C668.1 515 668.2 524 668.3 531C668.3 538 668.5 546.9 668.3 552C668.1 557.1 667.9 559.3 667.2 561.7C666.5 564.1 664.7 565.5 664.2 566.2C663.1 566.4 661.1 567.4 657.5 567.3C653.9 567.2 647.5 566.4 642.5 565.7C637.5 565 631.2 563.6 627.5 563C623.8 562.4 624.6 562.1 620 562.3C615.4 562.5 606.7 563.4 600 564C593.3 564.6 586.7 565.3 580 566C573.3 566.7 566.7 567.5 560 568C553.3 568.5 546.7 569.5 540 569C533.3 568.5 526.7 566.3 520 565C513.3 563.7 506.7 562.2 500 561C493.3 559.8 486.7 558.5 480 558C473.3 557.5 466.7 557.8 460 558C453.3 558.2 446.7 558.6 440 559C433.3 559.4 426 559.7 420 560.4C414 561.1 409 561.7 404 563C399 564.3 394 565.8 390 568C386 570.2 383.3 573.7 380 576C376.7 578.3 374 580.8 370 582C366 583.2 361 583.5 356 583C351 582.5 345 580.8 340 579C335 577.2 331 574.2 326 572C321 569.8 315 567.2 310 566C305 564.8 301 564.8 296 565C291 565.2 286 565.2 280 567C274 568.8 266.7 572.5 260 576C253.3 579.5 246.7 585.3 240 588C233.3 590.7 226.7 591.8 220 592C213.3 592.2 206 590.5 200 589C194 587.5 188.2 584.7 184 583C179.8 581.3 178.3 580.7 175 578.9C171.7 577.1 167.2 573.6 164 572C160.8 570.4 159 569.8 155.8 569.3C152.5 568.8 148.4 568.6 144.8 569.3C141.1 570 137.2 571.7 133.8 573.4C130.3 575.1 127.5 577.9 124 579.6C120.5 581.3 117.1 583.1 113 583.7C108.9 584.3 103.5 584 99.4 583C95.3 582 90.4 578.4 88.6 577.5C87.2 575.9 82.3 571.2 80 568C77.7 564.8 76.2 561.7 75 558C73.8 554.3 72.8 550 73 546C73.2 542 74.2 538 76 534C77.8 530 80.7 525.3 84 522C87.3 518.7 92.3 516.1 96 514C99.7 511.9 102.7 510.3 106 509.6C109.3 508.9 113.5 509.6 116 509.8C118.5 510 119.6 510.5 121 510.8C122.4 511.1 123.9 511.3 124.5 511.4C125 511.2 126.5 510.7 127.5 510.2C128.5 509.7 129.4 508.7 130.5 508.3C131.6 507.9 133.4 507.7 134 507.6C134.6 508.1 136.5 509.4 137.5 510.5C138.5 511.6 139 513.2 140 514C141 514.8 142.2 515.3 143.5 515.4C144.8 515.5 146.2 514.7 147.5 514.8C148.8 514.9 149.8 515.6 151 516C152.2 516.4 153.3 516.5 154.4 517C155.5 517.5 156.8 518.8 157.3 519.2Z" fill="#f5eedb" fill-opacity="0.4"/></g><path d="M157.3 519.2C157.6 519.8 158.9 521.4 159.2 523C159.5 524.6 159.5 527 159.2 529C158.9 531 156.5 534.1 157.6 535C158.7 535.9 163.9 535.1 166 534.6C168.1 534.1 167.7 533.8 170 532C172.3 530.2 176.7 526.4 180 524C183.3 521.6 186.7 519.5 190 517.5C193.3 515.5 196.7 513.5 200 512C203.3 510.5 206.7 509.5 210 508.5C213.3 507.5 216.7 506.7 220 506C223.3 505.3 226.7 504.8 230 504.3C233.3 503.8 233.3 503.6 240 503.2C246.7 502.8 260.7 501.8 270 502C279.3 502.2 289.3 504 296 504.4C302.7 504.8 304.3 505 310 504.4C315.7 503.8 324.3 501.7 330 501C335.7 500.3 339 499.8 344 500C349 500.2 354 501.1 360 502C366 502.9 375.3 504.1 380 505.5C384.7 506.9 384.7 509.6 388 510.5C391.3 511.4 394.7 510.9 400 511C405.3 511.1 413.3 510.7 420 511C426.7 511.3 433.3 512.4 440 513C446.7 513.6 453.3 514.1 460 514.4C466.7 514.7 473.3 514.7 480 515C486.7 515.3 495 515.2 500 516C505 516.8 506.7 518.7 510 520C513.3 521.3 516.3 522.7 520 524C523.7 525.3 527.8 526.8 532 528C536.2 529.2 540.3 530.1 545 531C549.7 531.9 552.5 532.9 560 533.5C567.5 534.1 580 534.5 590 534.5C600 534.5 613 534.1 620 533.6C627 533.1 628 532.6 632 531.7C636 530.8 640.6 529.9 644 528C647.4 526.1 650.2 523.5 652.2 520.5C654.2 517.5 655.1 513.2 656 510C656.9 506.8 656.9 503 657.4 501C657.9 499 658.2 498.8 659 498.2C659.8 497.6 660.9 497.4 662 497.4C663.1 497.4 664.5 497.4 665.4 498C666.3 498.6 667 499 667.4 501C667.8 503 667.9 505 668 510C668.1 515 668.2 524 668.3 531C668.3 538 668.5 546.9 668.3 552C668.1 557.1 667.9 559.3 667.2 561.7C666.5 564.1 664.7 565.5 664.2 566.2C663.1 566.4 661.1 567.4 657.5 567.3C653.9 567.2 647.5 566.4 642.5 565.7C637.5 565 631.2 563.6 627.5 563C623.8 562.4 624.6 562.1 620 562.3C615.4 562.5 606.7 563.4 600 564C593.3 564.6 586.7 565.3 580 566C573.3 566.7 566.7 567.5 560 568C553.3 568.5 546.7 569.5 540 569C533.3 568.5 526.7 566.3 520 565C513.3 563.7 506.7 562.2 500 561C493.3 559.8 486.7 558.5 480 558C473.3 557.5 466.7 557.8 460 558C453.3 558.2 446.7 558.6 440 559C433.3 559.4 426 559.7 420 560.4C414 561.1 409 561.7 404 563C399 564.3 394 565.8 390 568C386 570.2 383.3 573.7 380 576C376.7 578.3 374 580.8 370 582C366 583.2 361 583.5 356 583C351 582.5 345 580.8 340 579C335 577.2 331 574.2 326 572C321 569.8 315 567.2 310 566C305 564.8 301 564.8 296 565C291 565.2 286 565.2 280 567C274 568.8 266.7 572.5 260 576C253.3 579.5 246.7 585.3 240 588C233.3 590.7 226.7 591.8 220 592C213.3 592.2 206 590.5 200 589C194 587.5 188.2 584.7 184 583C179.8 581.3 178.3 580.7 175 578.9C171.7 577.1 167.2 573.6 164 572C160.8 570.4 159 569.8 155.8 569.3C152.5 568.8 148.4 568.6 144.8 569.3C141.1 570 137.2 571.7 133.8 573.4C130.3 575.1 127.5 577.9 124 579.6C120.5 581.3 117.1 583.1 113 583.7C108.9 584.3 103.5 584 99.4 583C95.3 582 90.4 578.4 88.6 577.5C87.2 575.9 82.3 571.2 80 568C77.7 564.8 76.2 561.7 75 558C73.8 554.3 72.8 550 73 546C73.2 542 74.2 538 76 534C77.8 530 80.7 525.3 84 522C87.3 518.7 92.3 516.1 96 514C99.7 511.9 102.7 510.3 106 509.6C109.3 508.9 113.5 509.6 116 509.8C118.5 510 119.6 510.5 121 510.8C122.4 511.1 123.9 511.3 124.5 511.4C125 511.2 126.5 510.7 127.5 510.2C128.5 509.7 129.4 508.7 130.5 508.3C131.6 507.9 133.4 507.7 134 507.6C134.6 508.1 136.5 509.4 137.5 510.5C138.5 511.6 139 513.2 140 514C141 514.8 142.2 515.3 143.5 515.4C144.8 515.5 146.2 514.7 147.5 514.8C148.8 514.9 149.8 515.6 151 516C152.2 516.4 153.3 516.5 154.4 517C155.5 517.5 156.8 518.8 157.3 519.2Z" fill="#f2edda" fill-opacity="0.67" stroke="#454545" stroke-width="1" stroke-linejoin="round"/>
<!-- bottom band -->
<rect x="0" y="664" width="800" height="136" fill="#b87b39"/>
<text x="144.84" y="63.6" font-size="38" fill="#ffffff" font-weight="bold" stroke="#ffffff" stroke-width="0.7" stroke-linejoin="round" textLength="211.88" lengthAdjust="spacingAndGlyphs">INNOVATIVE</text>
<text x="367.22" y="63.6" font-size="38" fill="#ffffff" font-weight="bold" stroke="#ffffff" stroke-width="0.7" stroke-linejoin="round" textLength="93.67" lengthAdjust="spacingAndGlyphs">DUAL</text>
<text x="473.52" y="63.6" font-size="38" fill="#ffffff" font-weight="bold" stroke="#ffffff" stroke-width="0.7" stroke-linejoin="round" textLength="70.29" lengthAdjust="spacingAndGlyphs">FILL</text>
<text x="554.71" y="63.6" font-size="38" fill="#ffffff" font-weight="bold" stroke="#ffffff" stroke-width="0.7" stroke-linejoin="round" textLength="135.50" lengthAdjust="spacingAndGlyphs">SYSTEM</text>
<text x="248.33" y="164.2" font-size="30.2" fill="#b87b39" stroke="#b87b39" stroke-width="1" stroke-linejoin="round" textLength="93.31" lengthAdjust="spacingAndGlyphs">CROSS</text>
<text x="350.34" y="164.2" font-size="30.2" fill="#b87b39" stroke="#b87b39" stroke-width="1" stroke-linejoin="round" textLength="122.44" lengthAdjust="spacingAndGlyphs">SECTION</text>
<text x="481.95" y="164.2" font-size="30.2" fill="#b87b39" stroke="#b87b39" stroke-width="1" stroke-linejoin="round" textLength="69.08" lengthAdjust="spacingAndGlyphs">VIEW</text>
<text x="329.11" y="441.6" font-size="30.2" fill="#b87b39" stroke="#b87b39" stroke-width="1" stroke-linejoin="round" textLength="62.05" lengthAdjust="spacingAndGlyphs">SIDE</text>
<text x="401.43" y="441.6" font-size="30.2" fill="#b87b39" stroke="#b87b39" stroke-width="1" stroke-linejoin="round" textLength="68.41" lengthAdjust="spacingAndGlyphs">VIEW</text>
<text x="449.77" y="276.6" font-size="24.2" fill="#1a1a1a" textLength="62.68" lengthAdjust="spacingAndGlyphs">DUCK</text>
<text x="519.13" y="276.6" font-size="24.2" fill="#1a1a1a" textLength="70.28" lengthAdjust="spacingAndGlyphs">DOWN</text>
<text x="450.63" y="328.6" font-size="24.2" fill="#1a1a1a" textLength="57.54" lengthAdjust="spacingAndGlyphs">100%</text>
<text x="513.32" y="328.6" font-size="24.2" fill="#1a1a1a" textLength="100.19" lengthAdjust="spacingAndGlyphs">Polyester</text>
<text x="179.25" y="703.2" font-size="30" fill="#ffffff" stroke="#ffffff" stroke-width="0.3" stroke-linejoin="round" textLength="137.91" lengthAdjust="spacingAndGlyphs">KingCamp</text>
<text x="326.47" y="703.2" font-size="30" fill="#ffffff" stroke="#ffffff" stroke-width="0.3" stroke-linejoin="round" textLength="112.94" lengthAdjust="spacingAndGlyphs">Sleeping</text>
<text x="450.03" y="703.2" font-size="30" fill="#ffffff" stroke="#ffffff" stroke-width="0.3" stroke-linejoin="round" textLength="52.87" lengthAdjust="spacingAndGlyphs">Bag</text>
<text x="511.59" y="703.2" font-size="30" fill="#ffffff" stroke="#ffffff" stroke-width="0.3" stroke-linejoin="round" textLength="30.84" lengthAdjust="spacingAndGlyphs">fill</text>
<text x="547.98" y="703.2" font-size="30" fill="#ffffff" stroke="#ffffff" stroke-width="0.3" stroke-linejoin="round" textLength="75.10" lengthAdjust="spacingAndGlyphs">down</text>
<text x="130.11" y="738.2" font-size="30" fill="#ffffff" stroke="#ffffff" stroke-width="0.3" stroke-linejoin="round" textLength="42.08" lengthAdjust="spacingAndGlyphs">top</text>
<text x="181.34" y="738.2" font-size="30" fill="#ffffff" stroke="#ffffff" stroke-width="0.3" stroke-linejoin="round" textLength="48.87" lengthAdjust="spacingAndGlyphs">and</text>
<text x="240.43" y="738.2" font-size="30" fill="#ffffff" stroke="#ffffff" stroke-width="0.3" stroke-linejoin="round" textLength="122.59" lengthAdjust="spacingAndGlyphs">polyester</text>
<text x="371.51" y="738.2" font-size="30" fill="#ffffff" stroke="#ffffff" stroke-width="0.3" stroke-linejoin="round" textLength="31.67" lengthAdjust="spacingAndGlyphs">fill</text>
<text x="410.91" y="738.2" font-size="30" fill="#ffffff" stroke="#ffffff" stroke-width="0.3" stroke-linejoin="round" textLength="98.69" lengthAdjust="spacingAndGlyphs">bottom</text>
<text x="516.91" y="738.2" font-size="30" fill="#ffffff" stroke="#ffffff" stroke-width="0.3" stroke-linejoin="round" textLength="113.43" lengthAdjust="spacingAndGlyphs">provides</text>
<text x="638.87" y="738.2" font-size="30" fill="#ffffff" stroke="#ffffff" stroke-width="0.3" stroke-linejoin="round" textLength="32.47" lengthAdjust="spacingAndGlyphs">an</text>
<text x="160.97" y="774.2" font-size="30" fill="#ffffff" stroke="#ffffff" stroke-width="0.3" stroke-linejoin="round" textLength="153.25" lengthAdjust="spacingAndGlyphs">exceptional</text>
<text x="323.89" y="774.2" font-size="30" fill="#ffffff" stroke="#ffffff" stroke-width="0.3" stroke-linejoin="round" textLength="103.62" lengthAdjust="spacingAndGlyphs">warmth</text>
<text x="428.14" y="774.2" font-size="30" fill="#ffffff" stroke="#ffffff" stroke-width="0.3" stroke-linejoin="round" textLength="11.59" lengthAdjust="spacingAndGlyphs">-</text>
<text x="441.62" y="774.2" font-size="30" fill="#ffffff" stroke="#ffffff" stroke-width="0.3" stroke-linejoin="round" textLength="22.83" lengthAdjust="spacingAndGlyphs">to</text>
<text x="465.62" y="774.2" font-size="30" fill="#ffffff" stroke="#ffffff" stroke-width="0.3" stroke-linejoin="round" textLength="12.12" lengthAdjust="spacingAndGlyphs">-</text>
<text x="480.54" y="774.2" font-size="30" fill="#ffffff" stroke="#ffffff" stroke-width="0.3" stroke-linejoin="round" textLength="89.11" lengthAdjust="spacingAndGlyphs">weight</text>
<text x="577.46" y="774.2" font-size="30" fill="#ffffff" stroke="#ffffff" stroke-width="0.3" stroke-linejoin="round" textLength="63.13" lengthAdjust="spacingAndGlyphs">ratio</text>
</svg>
</body></html>
